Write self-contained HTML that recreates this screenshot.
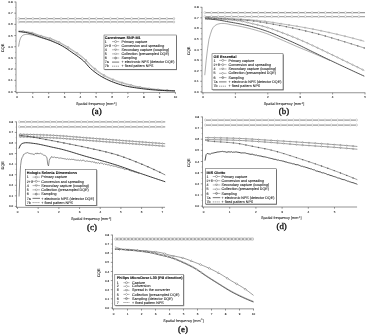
<!DOCTYPE html>
<html><head><meta charset="utf-8"><title>DQE figure</title>
<style>
html,body{margin:0;padding:0;background:#fff;}
body{width:367px;height:335px;overflow:hidden;}
text{stroke:#222;stroke-width:0.7px;}
text.cap{stroke:#111;stroke-width:3.6px;}
svg{display:block;font-family:"Liberation Sans",sans-serif;text-rendering:geometricPrecision;}
</style></head><body>
<svg width="367" height="335" viewBox="0 0 367 335">
<rect width="367" height="335" fill="#fff"/>
<line x1="16" y1="1.68" x2="16" y2="92.7" stroke="#4a4a4a" stroke-width="0.6"/>
<line x1="15.7" y1="92.4" x2="175.7" y2="92.4" stroke="#4a4a4a" stroke-width="0.6"/>
<line x1="14.3" y1="91.5" x2="16" y2="91.5" stroke="#444" stroke-width="0.55"/>
<text transform="translate(12.7 92.57) scale(0.1)" font-size="30" text-anchor="end" fill="#111">0.0</text>
<line x1="14.3" y1="80.31" x2="16" y2="80.31" stroke="#444" stroke-width="0.55"/>
<text transform="translate(12.7 81.38) scale(0.1)" font-size="30" text-anchor="end" fill="#111">0.1</text>
<line x1="14.3" y1="69.12" x2="16" y2="69.12" stroke="#444" stroke-width="0.55"/>
<text transform="translate(12.7 70.19) scale(0.1)" font-size="30" text-anchor="end" fill="#111">0.2</text>
<line x1="14.3" y1="57.93" x2="16" y2="57.93" stroke="#444" stroke-width="0.55"/>
<text transform="translate(12.7 59) scale(0.1)" font-size="30" text-anchor="end" fill="#111">0.3</text>
<line x1="14.3" y1="46.74" x2="16" y2="46.74" stroke="#444" stroke-width="0.55"/>
<text transform="translate(12.7 47.81) scale(0.1)" font-size="30" text-anchor="end" fill="#111">0.4</text>
<line x1="14.3" y1="35.55" x2="16" y2="35.55" stroke="#444" stroke-width="0.55"/>
<text transform="translate(12.7 36.62) scale(0.1)" font-size="30" text-anchor="end" fill="#111">0.5</text>
<line x1="14.3" y1="24.36" x2="16" y2="24.36" stroke="#444" stroke-width="0.55"/>
<text transform="translate(12.7 25.43) scale(0.1)" font-size="30" text-anchor="end" fill="#111">0.6</text>
<line x1="14.3" y1="13.17" x2="16" y2="13.17" stroke="#444" stroke-width="0.55"/>
<text transform="translate(12.7 14.24) scale(0.1)" font-size="30" text-anchor="end" fill="#111">0.7</text>
<line x1="14.3" y1="1.98" x2="16" y2="1.98" stroke="#444" stroke-width="0.55"/>
<text transform="translate(12.7 3.05) scale(0.1)" font-size="30" text-anchor="end" fill="#111">0.8</text>
<line x1="15.1" y1="85.91" x2="16" y2="85.91" stroke="#666" stroke-width="0.4"/>
<line x1="15.1" y1="74.72" x2="16" y2="74.72" stroke="#666" stroke-width="0.4"/>
<line x1="15.1" y1="63.52" x2="16" y2="63.52" stroke="#666" stroke-width="0.4"/>
<line x1="15.1" y1="52.34" x2="16" y2="52.34" stroke="#666" stroke-width="0.4"/>
<line x1="15.1" y1="41.14" x2="16" y2="41.14" stroke="#666" stroke-width="0.4"/>
<line x1="15.1" y1="29.95" x2="16" y2="29.95" stroke="#666" stroke-width="0.4"/>
<line x1="15.1" y1="18.77" x2="16" y2="18.77" stroke="#666" stroke-width="0.4"/>
<line x1="15.1" y1="7.57" x2="16" y2="7.57" stroke="#666" stroke-width="0.4"/>
<line x1="17" y1="92.4" x2="17" y2="94.1" stroke="#444" stroke-width="0.55"/>
<text transform="translate(17 98.1) scale(0.1)" font-size="30" text-anchor="middle" fill="#111">0</text>
<line x1="32.84" y1="92.4" x2="32.84" y2="94.1" stroke="#444" stroke-width="0.55"/>
<text transform="translate(32.84 98.1) scale(0.1)" font-size="30" text-anchor="middle" fill="#111">1</text>
<line x1="48.68" y1="92.4" x2="48.68" y2="94.1" stroke="#444" stroke-width="0.55"/>
<text transform="translate(48.68 98.1) scale(0.1)" font-size="30" text-anchor="middle" fill="#111">2</text>
<line x1="64.52" y1="92.4" x2="64.52" y2="94.1" stroke="#444" stroke-width="0.55"/>
<text transform="translate(64.52 98.1) scale(0.1)" font-size="30" text-anchor="middle" fill="#111">3</text>
<line x1="80.36" y1="92.4" x2="80.36" y2="94.1" stroke="#444" stroke-width="0.55"/>
<text transform="translate(80.36 98.1) scale(0.1)" font-size="30" text-anchor="middle" fill="#111">4</text>
<line x1="96.2" y1="92.4" x2="96.2" y2="94.1" stroke="#444" stroke-width="0.55"/>
<text transform="translate(96.2 98.1) scale(0.1)" font-size="30" text-anchor="middle" fill="#111">5</text>
<line x1="112.04" y1="92.4" x2="112.04" y2="94.1" stroke="#444" stroke-width="0.55"/>
<text transform="translate(112.04 98.1) scale(0.1)" font-size="30" text-anchor="middle" fill="#111">6</text>
<line x1="127.88" y1="92.4" x2="127.88" y2="94.1" stroke="#444" stroke-width="0.55"/>
<text transform="translate(127.88 98.1) scale(0.1)" font-size="30" text-anchor="middle" fill="#111">7</text>
<line x1="143.72" y1="92.4" x2="143.72" y2="94.1" stroke="#444" stroke-width="0.55"/>
<text transform="translate(143.72 98.1) scale(0.1)" font-size="30" text-anchor="middle" fill="#111">8</text>
<line x1="159.56" y1="92.4" x2="159.56" y2="94.1" stroke="#444" stroke-width="0.55"/>
<text transform="translate(159.56 98.1) scale(0.1)" font-size="30" text-anchor="middle" fill="#111">9</text>
<line x1="175.4" y1="92.4" x2="175.4" y2="94.1" stroke="#444" stroke-width="0.55"/>
<text transform="translate(175.4 98.1) scale(0.1)" font-size="30" text-anchor="middle" fill="#111">10</text>
<text transform="translate(96.2 105.1) scale(0.1)" font-size="37.5" text-anchor="middle" fill="#111">Spatial frequency [mm<tspan dy="-13" font-size="24">-1</tspan><tspan dy="13">]</tspan></text>
<text transform="translate(3.9 47.94) rotate(-90) scale(0.1)" font-size="38" text-anchor="middle" fill="#111">DQE</text>
<line x1="18.8" y1="18.5" x2="175" y2="18.5" stroke="#a2a2a2" stroke-width="1.25"/>
<ellipse cx="18.8" cy="18.5" rx="0.85" ry="1.15" fill="#fff" stroke="#a5a5a5" stroke-width="0.4"/>
<ellipse cx="25.85" cy="18.5" rx="0.85" ry="1.15" fill="#fff" stroke="#a5a5a5" stroke-width="0.4"/>
<ellipse cx="32.9" cy="18.5" rx="0.85" ry="1.15" fill="#fff" stroke="#a5a5a5" stroke-width="0.4"/>
<ellipse cx="39.95" cy="18.5" rx="0.85" ry="1.15" fill="#fff" stroke="#a5a5a5" stroke-width="0.4"/>
<ellipse cx="47" cy="18.5" rx="0.85" ry="1.15" fill="#fff" stroke="#a5a5a5" stroke-width="0.4"/>
<ellipse cx="54.05" cy="18.5" rx="0.85" ry="1.15" fill="#fff" stroke="#a5a5a5" stroke-width="0.4"/>
<ellipse cx="61.1" cy="18.5" rx="0.85" ry="1.15" fill="#fff" stroke="#a5a5a5" stroke-width="0.4"/>
<ellipse cx="68.15" cy="18.5" rx="0.85" ry="1.15" fill="#fff" stroke="#a5a5a5" stroke-width="0.4"/>
<ellipse cx="75.2" cy="18.5" rx="0.85" ry="1.15" fill="#fff" stroke="#a5a5a5" stroke-width="0.4"/>
<ellipse cx="82.25" cy="18.5" rx="0.85" ry="1.15" fill="#fff" stroke="#a5a5a5" stroke-width="0.4"/>
<ellipse cx="89.3" cy="18.5" rx="0.85" ry="1.15" fill="#fff" stroke="#a5a5a5" stroke-width="0.4"/>
<ellipse cx="96.35" cy="18.5" rx="0.85" ry="1.15" fill="#fff" stroke="#a5a5a5" stroke-width="0.4"/>
<ellipse cx="103.4" cy="18.5" rx="0.85" ry="1.15" fill="#fff" stroke="#a5a5a5" stroke-width="0.4"/>
<ellipse cx="110.45" cy="18.5" rx="0.85" ry="1.15" fill="#fff" stroke="#a5a5a5" stroke-width="0.4"/>
<ellipse cx="117.5" cy="18.5" rx="0.85" ry="1.15" fill="#fff" stroke="#a5a5a5" stroke-width="0.4"/>
<ellipse cx="124.55" cy="18.5" rx="0.85" ry="1.15" fill="#fff" stroke="#a5a5a5" stroke-width="0.4"/>
<ellipse cx="131.6" cy="18.5" rx="0.85" ry="1.15" fill="#fff" stroke="#a5a5a5" stroke-width="0.4"/>
<ellipse cx="138.65" cy="18.5" rx="0.85" ry="1.15" fill="#fff" stroke="#a5a5a5" stroke-width="0.4"/>
<ellipse cx="145.7" cy="18.5" rx="0.85" ry="1.15" fill="#fff" stroke="#a5a5a5" stroke-width="0.4"/>
<ellipse cx="152.75" cy="18.5" rx="0.85" ry="1.15" fill="#fff" stroke="#a5a5a5" stroke-width="0.4"/>
<ellipse cx="159.8" cy="18.5" rx="0.85" ry="1.15" fill="#fff" stroke="#a5a5a5" stroke-width="0.4"/>
<ellipse cx="166.85" cy="18.5" rx="0.85" ry="1.15" fill="#fff" stroke="#a5a5a5" stroke-width="0.4"/>
<ellipse cx="173.9" cy="18.5" rx="0.85" ry="1.15" fill="#fff" stroke="#a5a5a5" stroke-width="0.4"/>
<line x1="18.8" y1="21.96" x2="175" y2="21.96" stroke="#a2a2a2" stroke-width="1.25"/>
<ellipse cx="18.8" cy="21.96" rx="0.85" ry="1.15" fill="#fff" stroke="#a5a5a5" stroke-width="0.4"/>
<ellipse cx="25.85" cy="21.96" rx="0.85" ry="1.15" fill="#fff" stroke="#a5a5a5" stroke-width="0.4"/>
<ellipse cx="32.9" cy="21.96" rx="0.85" ry="1.15" fill="#fff" stroke="#a5a5a5" stroke-width="0.4"/>
<ellipse cx="39.95" cy="21.96" rx="0.85" ry="1.15" fill="#fff" stroke="#a5a5a5" stroke-width="0.4"/>
<ellipse cx="47" cy="21.96" rx="0.85" ry="1.15" fill="#fff" stroke="#a5a5a5" stroke-width="0.4"/>
<ellipse cx="54.05" cy="21.96" rx="0.85" ry="1.15" fill="#fff" stroke="#a5a5a5" stroke-width="0.4"/>
<ellipse cx="61.1" cy="21.96" rx="0.85" ry="1.15" fill="#fff" stroke="#a5a5a5" stroke-width="0.4"/>
<ellipse cx="68.15" cy="21.96" rx="0.85" ry="1.15" fill="#fff" stroke="#a5a5a5" stroke-width="0.4"/>
<ellipse cx="75.2" cy="21.96" rx="0.85" ry="1.15" fill="#fff" stroke="#a5a5a5" stroke-width="0.4"/>
<ellipse cx="82.25" cy="21.96" rx="0.85" ry="1.15" fill="#fff" stroke="#a5a5a5" stroke-width="0.4"/>
<ellipse cx="89.3" cy="21.96" rx="0.85" ry="1.15" fill="#fff" stroke="#a5a5a5" stroke-width="0.4"/>
<ellipse cx="96.35" cy="21.96" rx="0.85" ry="1.15" fill="#fff" stroke="#a5a5a5" stroke-width="0.4"/>
<ellipse cx="103.4" cy="21.96" rx="0.85" ry="1.15" fill="#fff" stroke="#a5a5a5" stroke-width="0.4"/>
<ellipse cx="110.45" cy="21.96" rx="0.85" ry="1.15" fill="#fff" stroke="#a5a5a5" stroke-width="0.4"/>
<ellipse cx="117.5" cy="21.96" rx="0.85" ry="1.15" fill="#fff" stroke="#a5a5a5" stroke-width="0.4"/>
<ellipse cx="124.55" cy="21.96" rx="0.85" ry="1.15" fill="#fff" stroke="#a5a5a5" stroke-width="0.4"/>
<ellipse cx="131.6" cy="21.96" rx="0.85" ry="1.15" fill="#fff" stroke="#a5a5a5" stroke-width="0.4"/>
<ellipse cx="138.65" cy="21.96" rx="0.85" ry="1.15" fill="#fff" stroke="#a5a5a5" stroke-width="0.4"/>
<ellipse cx="145.7" cy="21.96" rx="0.85" ry="1.15" fill="#fff" stroke="#a5a5a5" stroke-width="0.4"/>
<ellipse cx="152.75" cy="21.96" rx="0.85" ry="1.15" fill="#fff" stroke="#a5a5a5" stroke-width="0.4"/>
<ellipse cx="159.8" cy="21.96" rx="0.85" ry="1.15" fill="#fff" stroke="#a5a5a5" stroke-width="0.4"/>
<ellipse cx="166.85" cy="21.96" rx="0.85" ry="1.15" fill="#fff" stroke="#a5a5a5" stroke-width="0.4"/>
<ellipse cx="173.9" cy="21.96" rx="0.85" ry="1.15" fill="#fff" stroke="#a5a5a5" stroke-width="0.4"/>
<polyline points="18.58,31.01 20.34,31.09 22.1,31.21 23.85,31.35 25.61,31.51 27.37,31.74 29.13,32.05 30.88,32.41 32.64,32.82 34.4,33.37 36.16,34.03 37.91,34.71 39.67,35.34 41.43,35.87 43.19,36.35 44.94,36.8 46.7,37.25 48.46,37.73 50.22,38.27 51.97,38.89 53.73,39.59 55.49,40.36 57.25,41.18 59,42.05 60.76,42.94 62.52,43.86 64.28,44.83 66.03,45.86 67.79,46.93 69.55,48.03 71.31,49.16 73.06,50.3 74.82,51.44 76.58,52.59 78.34,53.78 80.09,55.02 81.85,56.34 83.61,57.76 85.37,59.39 87.12,61.23 88.88,63.1 90.64,64.83 92.4,66.39 94.15,67.92 95.91,69.39 97.67,70.79 99.43,72.11 101.18,73.32 102.94,74.4 104.7,75.4 106.46,76.34 108.21,77.22 109.97,78.05 111.73,78.82 113.49,79.55 115.24,80.22 117,80.86 118.76,81.45 120.52,82.01 122.27,82.55 124.03,83.06 125.79,83.56 127.55,84.05 129.3,84.53 131.06,85 132.82,85.46 134.58,85.9 136.33,86.3 138.09,86.68 139.85,87.01 141.61,87.33 143.36,87.63 145.12,87.9 146.88,88.16 148.64,88.41 150.39,88.64 152.15,88.85 153.91,89.05 155.67,89.25 157.42,89.43 159.18,89.6 160.94,89.76 162.7,89.9 164.45,90.03 166.21,90.16 167.97,90.27 169.73,90.38 171.48,90.48 173.24,90.57 175,90.64" fill="none" stroke="#777" stroke-width="0.45"/>
<circle cx="23.08" cy="31.29" r="0.65" fill="#fff" stroke="#777" stroke-width="0.4"/>
<circle cx="32.08" cy="32.69" r="0.65" fill="#fff" stroke="#777" stroke-width="0.4"/>
<circle cx="41.08" cy="35.77" r="0.65" fill="#fff" stroke="#777" stroke-width="0.4"/>
<circle cx="50.08" cy="38.23" r="0.65" fill="#fff" stroke="#777" stroke-width="0.4"/>
<circle cx="59.08" cy="42.09" r="0.65" fill="#fff" stroke="#777" stroke-width="0.4"/>
<circle cx="68.08" cy="47.11" r="0.65" fill="#fff" stroke="#777" stroke-width="0.4"/>
<circle cx="77.08" cy="52.93" r="0.65" fill="#fff" stroke="#777" stroke-width="0.4"/>
<circle cx="86.08" cy="60.14" r="0.65" fill="#fff" stroke="#777" stroke-width="0.4"/>
<circle cx="95.08" cy="68.69" r="0.65" fill="#fff" stroke="#777" stroke-width="0.4"/>
<circle cx="104.08" cy="75.05" r="0.65" fill="#fff" stroke="#777" stroke-width="0.4"/>
<circle cx="113.08" cy="79.38" r="0.65" fill="#fff" stroke="#777" stroke-width="0.4"/>
<circle cx="122.08" cy="82.49" r="0.65" fill="#fff" stroke="#777" stroke-width="0.4"/>
<circle cx="131.08" cy="85.01" r="0.65" fill="#fff" stroke="#777" stroke-width="0.4"/>
<circle cx="140.08" cy="87.06" r="0.65" fill="#fff" stroke="#777" stroke-width="0.4"/>
<circle cx="149.08" cy="88.47" r="0.65" fill="#fff" stroke="#777" stroke-width="0.4"/>
<circle cx="158.08" cy="89.49" r="0.65" fill="#fff" stroke="#777" stroke-width="0.4"/>
<circle cx="167.08" cy="90.21" r="0.65" fill="#fff" stroke="#777" stroke-width="0.4"/>
<polyline points="18.58,31.18 20.34,31.27 22.1,31.41 23.85,31.58 25.61,31.77 27.37,32.04 29.13,32.39 30.88,32.79 32.64,33.24 34.4,33.8 36.16,34.46 37.91,35.14 39.67,35.78 41.43,36.33 43.19,36.83 44.94,37.31 46.7,37.8 48.46,38.31 50.22,38.87 51.97,39.51 53.73,40.22 55.49,40.99 57.25,41.81 59,42.67 60.76,43.56 62.52,44.49 64.28,45.48 66.03,46.54 67.79,47.64 69.55,48.77 71.31,49.93 73.06,51.1 74.82,52.26 76.58,53.43 78.34,54.63 80.09,55.89 81.85,57.23 83.61,58.67 85.37,60.34 87.12,62.22 88.88,64.14 90.64,65.89 92.4,67.44 94.15,68.94 95.91,70.37 97.67,71.73 99.43,73.01 101.18,74.18 102.94,75.23 104.7,76.22 106.46,77.14 108.21,78.01 109.97,78.83 111.73,79.59 113.49,80.3 115.24,80.97 117,81.6 118.76,82.19 120.52,82.75 122.27,83.28 124.03,83.78 125.79,84.26 127.55,84.72 129.3,85.16 131.06,85.59 132.82,86 134.58,86.38 136.33,86.75 138.09,87.08 139.85,87.39 141.61,87.68 143.36,87.96 145.12,88.22 146.88,88.47 148.64,88.7 150.39,88.91 152.15,89.11 153.91,89.29 155.67,89.47 157.42,89.64 159.18,89.79 160.94,89.93 162.7,90.07 164.45,90.18 166.21,90.3 167.97,90.4 169.73,90.5 171.48,90.59 173.24,90.67 175,90.74" fill="none" stroke="#777" stroke-width="0.45"/>
<rect x="22.43" y="30.86" width="1.3" height="1.3" fill="#fff" stroke="#777" stroke-width="0.4" transform="rotate(45 23.08 31.51)"/>
<rect x="31.43" y="32.44" width="1.3" height="1.3" fill="#fff" stroke="#777" stroke-width="0.4" transform="rotate(45 32.08 33.09)"/>
<rect x="40.43" y="35.57" width="1.3" height="1.3" fill="#fff" stroke="#777" stroke-width="0.4" transform="rotate(45 41.08 36.22)"/>
<rect x="49.43" y="38.18" width="1.3" height="1.3" fill="#fff" stroke="#777" stroke-width="0.4" transform="rotate(45 50.08 38.83)"/>
<rect x="58.43" y="42.06" width="1.3" height="1.3" fill="#fff" stroke="#777" stroke-width="0.4" transform="rotate(45 59.08 42.71)"/>
<rect x="67.43" y="47.17" width="1.3" height="1.3" fill="#fff" stroke="#777" stroke-width="0.4" transform="rotate(45 68.08 47.82)"/>
<rect x="76.43" y="53.12" width="1.3" height="1.3" fill="#fff" stroke="#777" stroke-width="0.4" transform="rotate(45 77.08 53.77)"/>
<rect x="85.43" y="60.45" width="1.3" height="1.3" fill="#fff" stroke="#777" stroke-width="0.4" transform="rotate(45 86.08 61.1)"/>
<rect x="94.43" y="69.04" width="1.3" height="1.3" fill="#fff" stroke="#777" stroke-width="0.4" transform="rotate(45 95.08 69.69)"/>
<rect x="103.43" y="75.22" width="1.3" height="1.3" fill="#fff" stroke="#777" stroke-width="0.4" transform="rotate(45 104.08 75.87)"/>
<rect x="112.43" y="79.49" width="1.3" height="1.3" fill="#fff" stroke="#777" stroke-width="0.4" transform="rotate(45 113.08 80.14)"/>
<rect x="121.43" y="82.57" width="1.3" height="1.3" fill="#fff" stroke="#777" stroke-width="0.4" transform="rotate(45 122.08 83.22)"/>
<rect x="130.43" y="84.94" width="1.3" height="1.3" fill="#fff" stroke="#777" stroke-width="0.4" transform="rotate(45 131.08 85.59)"/>
<rect x="139.43" y="86.78" width="1.3" height="1.3" fill="#fff" stroke="#777" stroke-width="0.4" transform="rotate(45 140.08 87.43)"/>
<rect x="148.43" y="88.1" width="1.3" height="1.3" fill="#fff" stroke="#777" stroke-width="0.4" transform="rotate(45 149.08 88.75)"/>
<rect x="157.43" y="89.04" width="1.3" height="1.3" fill="#fff" stroke="#777" stroke-width="0.4" transform="rotate(45 158.08 89.69)"/>
<rect x="166.43" y="89.7" width="1.3" height="1.3" fill="#fff" stroke="#777" stroke-width="0.4" transform="rotate(45 167.08 90.35)"/>
<polyline points="18.58,31.61 20.34,31.75 22.1,31.95 23.85,32.18 25.61,32.44 27.37,32.81 29.13,33.27 30.88,33.78 32.64,34.31 34.4,34.91 36.16,35.56 37.91,36.24 39.67,36.89 41.43,37.5 43.19,38.07 44.94,38.63 46.7,39.2 48.46,39.79 50.22,40.43 51.97,41.11 53.73,41.84 55.49,42.6 57.25,43.41 59,44.26 60.76,45.16 62.52,46.11 64.28,47.16 66.03,48.28 67.79,49.47 69.55,50.69 71.31,51.92 73.06,53.16 74.82,54.37 76.58,55.58 78.34,56.82 80.09,58.11 81.85,59.5 83.61,60.99 85.37,62.76 87.12,64.78 88.88,66.82 90.64,68.63 92.4,70.14 94.15,71.56 95.91,72.89 97.67,74.14 99.43,75.31 101.18,76.39 102.94,77.38 104.7,78.32 106.46,79.21 108.21,80.04 109.97,80.83 111.73,81.56 113.49,82.25 115.24,82.89 117,83.5 118.76,84.09 120.52,84.65 122.27,85.17 124.03,85.65 125.79,86.07 127.55,86.44 129.3,86.78 131.06,87.09 132.82,87.37 134.58,87.63 136.33,87.88 138.09,88.13 139.85,88.36 141.61,88.6 143.36,88.83 145.12,89.04 146.88,89.25 148.64,89.44 150.39,89.61 152.15,89.77 153.91,89.91 155.67,90.04 157.42,90.17 159.18,90.28 160.94,90.39 162.7,90.48 164.45,90.57 166.21,90.65 167.97,90.73 169.73,90.8 171.48,90.87 173.24,90.93 175,90.98" fill="none" stroke="#111" stroke-width="0.9"/>
<polyline points="18.58,46.61 19.22,42.72 19.87,40.08 20.51,38.28 21.15,37.05 21.79,36.2 22.44,35.61 23.08,35.2 23.72,34.91 24.36,34.7 25.01,34.55 25.65,34.46 26.29,34.41 26.94,34.4 27.58,34.42 28.22,34.47 28.86,34.54 29.51,34.62 30.15,34.72 30.79,34.83 31.43,34.94 32.08,35.06 32.72,35.2 33.36,35.35 34.01,35.52 34.65,35.7 35.29,35.89 35.93,36.08 36.58,36.29 37.22,36.5 37.86,36.71 38.5,36.92 39.15,37.12 39.79,37.33 40.43,37.52 41.07,37.72 41.72,37.91 42.36,38.1 43,38.29 43.65,38.47 44.29,38.66 44.93,38.85 45.57,39.04 46.22,39.23 46.86,39.43 47.5,39.63 48.14,39.84 48.79,40.05 49.43,40.27 50.07,40.5 50.72,40.73 51.36,40.97 52,41.22 52.64,41.48 53.29,41.74 53.93,42 54.57,42.27 55.21,42.55 55.86,42.83 56.5,43.12" fill="none" stroke="#5a5a5a" stroke-width="0.55"/>
<rect x="104.7" y="35.7" width="72.3" height="34.4" fill="#777"/>
<rect x="104" y="35" width="72.3" height="34.4" fill="#fff" stroke="#444" stroke-width="0.5"/>
<text transform="translate(104.8 38.95) scale(0.1)" font-size="37.5" text-anchor="start" fill="#000" font-weight="bold">Carestream SNP-M1</text>
<text transform="translate(104.8 42.75) scale(0.1)" font-size="36.5" text-anchor="start" fill="#111">1</text>
<line x1="112" y1="41.6" x2="119.2" y2="41.6" stroke="#666" stroke-width="0.5"/>
<circle cx="115.6" cy="41.6" r="1.0" fill="#fff" stroke="#555" stroke-width="0.45"/>
<text transform="translate(121.6 42.75) scale(0.1)" font-size="36.5" text-anchor="start" fill="#111">Primary capture</text>
<text transform="translate(104.8 46.85) scale(0.1)" font-size="36.5" text-anchor="start" fill="#111">2+3</text>
<line x1="112" y1="45.7" x2="119.2" y2="45.7" stroke="#666" stroke-width="0.5"/>
<circle cx="115.6" cy="45.7" r="1.0" fill="#fff" stroke="#555" stroke-width="0.45"/>
<text transform="translate(121.6 46.85) scale(0.1)" font-size="36.5" text-anchor="start" fill="#111">Conversion and spreading</text>
<text transform="translate(104.8 50.95) scale(0.1)" font-size="36.5" text-anchor="start" fill="#111">4</text>
<line x1="112" y1="49.8" x2="119.2" y2="49.8" stroke="#666" stroke-width="0.5"/>
<path d="M114.6 49 l2 0 l-1 1.8 z" fill="#fff" stroke="#555" stroke-width="0.4"/>
<text transform="translate(121.6 50.95) scale(0.1)" font-size="36.5" text-anchor="start" fill="#111">Secondary capture (coupling)</text>
<text transform="translate(104.8 55.05) scale(0.1)" font-size="36.5" text-anchor="start" fill="#111">5</text>
<line x1="112" y1="53.9" x2="119.2" y2="53.9" stroke="#666" stroke-width="0.5"/>
<path d="M115.6 52.8 l1.1 1.1 l-1.1 1.1 l-1.1 -1.1 z" fill="#fff" stroke="#555" stroke-width="0.4"/>
<text transform="translate(121.6 55.05) scale(0.1)" font-size="36.5" text-anchor="start" fill="#111">Collection (presampled DQE)</text>
<text transform="translate(104.8 59.15) scale(0.1)" font-size="36.5" text-anchor="start" fill="#111">6</text>
<line x1="112" y1="58" x2="119.2" y2="58" stroke="#666" stroke-width="0.5"/>
<circle cx="115.6" cy="58" r="1.0" fill="#bbb" stroke="#555" stroke-width="0.45"/>
<text transform="translate(121.6 59.15) scale(0.1)" font-size="36.5" text-anchor="start" fill="#111">Sampling</text>
<text transform="translate(104.8 63.25) scale(0.1)" font-size="36.5" text-anchor="start" fill="#111">7a</text>
<line x1="112" y1="62.1" x2="119.2" y2="62.1" stroke="#2a2a2a" stroke-width="0.65"/>
<text transform="translate(121.6 63.25) scale(0.1)" font-size="36.5" text-anchor="start" fill="#111">+ electronic NPS (detector DQE)</text>
<text transform="translate(104.8 67.35) scale(0.1)" font-size="36.5" text-anchor="start" fill="#111">7b</text>
<line x1="112" y1="66.2" x2="119.2" y2="66.2" stroke="#555" stroke-width="0.6" stroke-dasharray="1.3 0.6"/>
<text transform="translate(121.6 67.35) scale(0.1)" font-size="36.5" text-anchor="start" fill="#111">+ fixed pattern NPS</text>
<text class="cap" transform="translate(96.7 113.6) scale(0.1)" font-size="88" text-anchor="middle" fill="#111" font-family='"Liberation Serif", serif'>(a)</text>
<line x1="202" y1="6.95" x2="202" y2="93.05" stroke="#4a4a4a" stroke-width="0.6"/>
<line x1="201.7" y1="92.75" x2="365.3" y2="92.75" stroke="#4a4a4a" stroke-width="0.6"/>
<line x1="200.3" y1="91.85" x2="202" y2="91.85" stroke="#444" stroke-width="0.55"/>
<text transform="translate(198.7 92.92) scale(0.1)" font-size="30" text-anchor="end" fill="#111">0.0</text>
<line x1="200.3" y1="81.27" x2="202" y2="81.27" stroke="#444" stroke-width="0.55"/>
<text transform="translate(198.7 82.34) scale(0.1)" font-size="30" text-anchor="end" fill="#111">0.1</text>
<line x1="200.3" y1="70.7" x2="202" y2="70.7" stroke="#444" stroke-width="0.55"/>
<text transform="translate(198.7 71.77) scale(0.1)" font-size="30" text-anchor="end" fill="#111">0.2</text>
<line x1="200.3" y1="60.12" x2="202" y2="60.12" stroke="#444" stroke-width="0.55"/>
<text transform="translate(198.7 61.2) scale(0.1)" font-size="30" text-anchor="end" fill="#111">0.3</text>
<line x1="200.3" y1="49.55" x2="202" y2="49.55" stroke="#444" stroke-width="0.55"/>
<text transform="translate(198.7 50.62) scale(0.1)" font-size="30" text-anchor="end" fill="#111">0.4</text>
<line x1="200.3" y1="38.97" x2="202" y2="38.97" stroke="#444" stroke-width="0.55"/>
<text transform="translate(198.7 40.04) scale(0.1)" font-size="30" text-anchor="end" fill="#111">0.5</text>
<line x1="200.3" y1="28.4" x2="202" y2="28.4" stroke="#444" stroke-width="0.55"/>
<text transform="translate(198.7 29.47) scale(0.1)" font-size="30" text-anchor="end" fill="#111">0.6</text>
<line x1="200.3" y1="17.83" x2="202" y2="17.83" stroke="#444" stroke-width="0.55"/>
<text transform="translate(198.7 18.9) scale(0.1)" font-size="30" text-anchor="end" fill="#111">0.7</text>
<line x1="200.3" y1="7.25" x2="202" y2="7.25" stroke="#444" stroke-width="0.55"/>
<text transform="translate(198.7 8.32) scale(0.1)" font-size="30" text-anchor="end" fill="#111">0.8</text>
<line x1="201.1" y1="86.56" x2="202" y2="86.56" stroke="#666" stroke-width="0.4"/>
<line x1="201.1" y1="75.99" x2="202" y2="75.99" stroke="#666" stroke-width="0.4"/>
<line x1="201.1" y1="65.41" x2="202" y2="65.41" stroke="#666" stroke-width="0.4"/>
<line x1="201.1" y1="54.84" x2="202" y2="54.84" stroke="#666" stroke-width="0.4"/>
<line x1="201.1" y1="44.26" x2="202" y2="44.26" stroke="#666" stroke-width="0.4"/>
<line x1="201.1" y1="33.69" x2="202" y2="33.69" stroke="#666" stroke-width="0.4"/>
<line x1="201.1" y1="23.11" x2="202" y2="23.11" stroke="#666" stroke-width="0.4"/>
<line x1="201.1" y1="12.54" x2="202" y2="12.54" stroke="#666" stroke-width="0.4"/>
<line x1="203" y1="92.75" x2="203" y2="94.45" stroke="#444" stroke-width="0.55"/>
<text transform="translate(203 98.45) scale(0.1)" font-size="30" text-anchor="middle" fill="#111">0</text>
<line x1="235.4" y1="92.75" x2="235.4" y2="94.45" stroke="#444" stroke-width="0.55"/>
<text transform="translate(235.4 98.45) scale(0.1)" font-size="30" text-anchor="middle" fill="#111">1</text>
<line x1="267.8" y1="92.75" x2="267.8" y2="94.45" stroke="#444" stroke-width="0.55"/>
<text transform="translate(267.8 98.45) scale(0.1)" font-size="30" text-anchor="middle" fill="#111">2</text>
<line x1="300.2" y1="92.75" x2="300.2" y2="94.45" stroke="#444" stroke-width="0.55"/>
<text transform="translate(300.2 98.45) scale(0.1)" font-size="30" text-anchor="middle" fill="#111">3</text>
<line x1="332.6" y1="92.75" x2="332.6" y2="94.45" stroke="#444" stroke-width="0.55"/>
<text transform="translate(332.6 98.45) scale(0.1)" font-size="30" text-anchor="middle" fill="#111">4</text>
<line x1="365" y1="92.75" x2="365" y2="94.45" stroke="#444" stroke-width="0.55"/>
<text transform="translate(365 98.45) scale(0.1)" font-size="30" text-anchor="middle" fill="#111">5</text>
<text transform="translate(284 105.45) scale(0.1)" font-size="37.5" text-anchor="middle" fill="#111">Spatial frequency [mm<tspan dy="-13" font-size="24">-1</tspan><tspan dy="13">]</tspan></text>
<text transform="translate(189.9 50.75) rotate(-90) scale(0.1)" font-size="38" text-anchor="middle" fill="#111">DQE</text>
<line x1="204.8" y1="12.57" x2="365" y2="12.57" stroke="#9c9c9c" stroke-width="1.25"/>
<ellipse cx="204.8" cy="12.57" rx="0.85" ry="1.15" fill="#fff" stroke="#a5a5a5" stroke-width="0.4"/>
<ellipse cx="211.5" cy="12.57" rx="0.85" ry="1.15" fill="#fff" stroke="#a5a5a5" stroke-width="0.4"/>
<ellipse cx="218.2" cy="12.57" rx="0.85" ry="1.15" fill="#fff" stroke="#a5a5a5" stroke-width="0.4"/>
<ellipse cx="224.9" cy="12.57" rx="0.85" ry="1.15" fill="#fff" stroke="#a5a5a5" stroke-width="0.4"/>
<ellipse cx="231.6" cy="12.57" rx="0.85" ry="1.15" fill="#fff" stroke="#a5a5a5" stroke-width="0.4"/>
<ellipse cx="238.3" cy="12.57" rx="0.85" ry="1.15" fill="#fff" stroke="#a5a5a5" stroke-width="0.4"/>
<ellipse cx="245" cy="12.57" rx="0.85" ry="1.15" fill="#fff" stroke="#a5a5a5" stroke-width="0.4"/>
<ellipse cx="251.7" cy="12.57" rx="0.85" ry="1.15" fill="#fff" stroke="#a5a5a5" stroke-width="0.4"/>
<ellipse cx="258.4" cy="12.57" rx="0.85" ry="1.15" fill="#fff" stroke="#a5a5a5" stroke-width="0.4"/>
<ellipse cx="265.1" cy="12.57" rx="0.85" ry="1.15" fill="#fff" stroke="#a5a5a5" stroke-width="0.4"/>
<ellipse cx="271.8" cy="12.57" rx="0.85" ry="1.15" fill="#fff" stroke="#a5a5a5" stroke-width="0.4"/>
<ellipse cx="278.5" cy="12.57" rx="0.85" ry="1.15" fill="#fff" stroke="#a5a5a5" stroke-width="0.4"/>
<ellipse cx="285.2" cy="12.57" rx="0.85" ry="1.15" fill="#fff" stroke="#a5a5a5" stroke-width="0.4"/>
<ellipse cx="291.9" cy="12.57" rx="0.85" ry="1.15" fill="#fff" stroke="#a5a5a5" stroke-width="0.4"/>
<ellipse cx="298.6" cy="12.57" rx="0.85" ry="1.15" fill="#fff" stroke="#a5a5a5" stroke-width="0.4"/>
<ellipse cx="305.3" cy="12.57" rx="0.85" ry="1.15" fill="#fff" stroke="#a5a5a5" stroke-width="0.4"/>
<ellipse cx="312" cy="12.57" rx="0.85" ry="1.15" fill="#fff" stroke="#a5a5a5" stroke-width="0.4"/>
<ellipse cx="318.7" cy="12.57" rx="0.85" ry="1.15" fill="#fff" stroke="#a5a5a5" stroke-width="0.4"/>
<ellipse cx="325.4" cy="12.57" rx="0.85" ry="1.15" fill="#fff" stroke="#a5a5a5" stroke-width="0.4"/>
<ellipse cx="332.1" cy="12.57" rx="0.85" ry="1.15" fill="#fff" stroke="#a5a5a5" stroke-width="0.4"/>
<ellipse cx="338.8" cy="12.57" rx="0.85" ry="1.15" fill="#fff" stroke="#a5a5a5" stroke-width="0.4"/>
<ellipse cx="345.5" cy="12.57" rx="0.85" ry="1.15" fill="#fff" stroke="#a5a5a5" stroke-width="0.4"/>
<ellipse cx="352.2" cy="12.57" rx="0.85" ry="1.15" fill="#fff" stroke="#a5a5a5" stroke-width="0.4"/>
<ellipse cx="358.9" cy="12.57" rx="0.85" ry="1.15" fill="#fff" stroke="#a5a5a5" stroke-width="0.4"/>
<line x1="204.8" y1="16.57" x2="365" y2="16.57" stroke="#aaa" stroke-width="1.25"/>
<ellipse cx="204.8" cy="16.57" rx="0.85" ry="1.15" fill="#fff" stroke="#a5a5a5" stroke-width="0.4"/>
<ellipse cx="211.5" cy="16.57" rx="0.85" ry="1.15" fill="#fff" stroke="#a5a5a5" stroke-width="0.4"/>
<ellipse cx="218.2" cy="16.57" rx="0.85" ry="1.15" fill="#fff" stroke="#a5a5a5" stroke-width="0.4"/>
<ellipse cx="224.9" cy="16.57" rx="0.85" ry="1.15" fill="#fff" stroke="#a5a5a5" stroke-width="0.4"/>
<ellipse cx="231.6" cy="16.57" rx="0.85" ry="1.15" fill="#fff" stroke="#a5a5a5" stroke-width="0.4"/>
<ellipse cx="238.3" cy="16.57" rx="0.85" ry="1.15" fill="#fff" stroke="#a5a5a5" stroke-width="0.4"/>
<ellipse cx="245" cy="16.57" rx="0.85" ry="1.15" fill="#fff" stroke="#a5a5a5" stroke-width="0.4"/>
<ellipse cx="251.7" cy="16.57" rx="0.85" ry="1.15" fill="#fff" stroke="#a5a5a5" stroke-width="0.4"/>
<ellipse cx="258.4" cy="16.57" rx="0.85" ry="1.15" fill="#fff" stroke="#a5a5a5" stroke-width="0.4"/>
<ellipse cx="265.1" cy="16.57" rx="0.85" ry="1.15" fill="#fff" stroke="#a5a5a5" stroke-width="0.4"/>
<ellipse cx="271.8" cy="16.57" rx="0.85" ry="1.15" fill="#fff" stroke="#a5a5a5" stroke-width="0.4"/>
<ellipse cx="278.5" cy="16.57" rx="0.85" ry="1.15" fill="#fff" stroke="#a5a5a5" stroke-width="0.4"/>
<ellipse cx="285.2" cy="16.57" rx="0.85" ry="1.15" fill="#fff" stroke="#a5a5a5" stroke-width="0.4"/>
<ellipse cx="291.9" cy="16.57" rx="0.85" ry="1.15" fill="#fff" stroke="#a5a5a5" stroke-width="0.4"/>
<ellipse cx="298.6" cy="16.57" rx="0.85" ry="1.15" fill="#fff" stroke="#a5a5a5" stroke-width="0.4"/>
<ellipse cx="305.3" cy="16.57" rx="0.85" ry="1.15" fill="#fff" stroke="#a5a5a5" stroke-width="0.4"/>
<ellipse cx="312" cy="16.57" rx="0.85" ry="1.15" fill="#fff" stroke="#a5a5a5" stroke-width="0.4"/>
<ellipse cx="318.7" cy="16.57" rx="0.85" ry="1.15" fill="#fff" stroke="#a5a5a5" stroke-width="0.4"/>
<ellipse cx="325.4" cy="16.57" rx="0.85" ry="1.15" fill="#fff" stroke="#a5a5a5" stroke-width="0.4"/>
<ellipse cx="332.1" cy="16.57" rx="0.85" ry="1.15" fill="#fff" stroke="#a5a5a5" stroke-width="0.4"/>
<ellipse cx="338.8" cy="16.57" rx="0.85" ry="1.15" fill="#fff" stroke="#a5a5a5" stroke-width="0.4"/>
<ellipse cx="345.5" cy="16.57" rx="0.85" ry="1.15" fill="#fff" stroke="#a5a5a5" stroke-width="0.4"/>
<ellipse cx="352.2" cy="16.57" rx="0.85" ry="1.15" fill="#fff" stroke="#a5a5a5" stroke-width="0.4"/>
<ellipse cx="358.9" cy="16.57" rx="0.85" ry="1.15" fill="#fff" stroke="#a5a5a5" stroke-width="0.4"/>
<polyline points="205,17.5 206.79,17.56 208.58,17.63 210.37,17.7 212.16,17.77 213.95,17.85 215.74,17.92 217.53,18 219.32,18.08 221.11,18.16 222.9,18.25 224.69,18.34 226.48,18.42 228.27,18.51 230.06,18.6 231.85,18.69 233.64,18.79 235.43,18.88 237.22,18.98 239.01,19.08 240.8,19.18 242.59,19.29 244.38,19.4 246.17,19.52 247.96,19.65 249.75,19.78 251.54,19.92 253.33,20.08 255.12,20.25 256.91,20.42 258.7,20.61 260.49,20.81 262.28,21.02 264.07,21.23 265.86,21.45 267.65,21.67 269.44,21.92 271.23,22.18 273.02,22.45 274.81,22.73 276.6,23.02 278.39,23.31 280.18,23.6 281.97,23.88 283.76,24.16 285.54,24.44 287.33,24.72 289.12,25 290.91,25.28 292.7,25.56 294.49,25.85 296.28,26.14 298.07,26.44 299.86,26.75 301.65,27.06 303.44,27.38 305.23,27.7 307.02,28.02 308.81,28.36 310.6,28.69 312.39,29.03 314.18,29.38 315.97,29.73 317.76,30.09 319.55,30.46 321.34,30.83 323.13,31.2 324.92,31.58 326.71,31.97 328.5,32.36 330.29,32.76 332.08,33.16 333.87,33.57 335.66,33.98 337.45,34.4 339.24,34.82 341.03,35.25 342.82,35.68 344.61,36.12 346.4,36.56 348.19,37.01 349.98,37.47 351.77,37.93 353.56,38.39 355.35,38.86 357.14,39.34 358.93,39.82 360.72,40.31 362.51,40.8 364.3,41.3" fill="none" stroke="#777" stroke-width="0.55"/>
<circle cx="209" cy="17.65" r="0.65" fill="#fff" stroke="#777" stroke-width="0.4"/>
<circle cx="217" cy="17.98" r="0.65" fill="#fff" stroke="#777" stroke-width="0.4"/>
<circle cx="225" cy="18.35" r="0.65" fill="#fff" stroke="#777" stroke-width="0.4"/>
<circle cx="233" cy="18.75" r="0.65" fill="#fff" stroke="#777" stroke-width="0.4"/>
<circle cx="241" cy="19.19" r="0.65" fill="#fff" stroke="#777" stroke-width="0.4"/>
<circle cx="249" cy="19.73" r="0.65" fill="#fff" stroke="#777" stroke-width="0.4"/>
<circle cx="257" cy="20.43" r="0.65" fill="#fff" stroke="#777" stroke-width="0.4"/>
<circle cx="265" cy="21.34" r="0.65" fill="#fff" stroke="#777" stroke-width="0.4"/>
<circle cx="273" cy="22.45" r="0.65" fill="#fff" stroke="#777" stroke-width="0.4"/>
<circle cx="281" cy="23.73" r="0.65" fill="#fff" stroke="#777" stroke-width="0.4"/>
<circle cx="289" cy="24.98" r="0.65" fill="#fff" stroke="#777" stroke-width="0.4"/>
<circle cx="297" cy="26.26" r="0.65" fill="#fff" stroke="#777" stroke-width="0.4"/>
<circle cx="305" cy="27.66" r="0.65" fill="#fff" stroke="#777" stroke-width="0.4"/>
<circle cx="313" cy="29.15" r="0.65" fill="#fff" stroke="#777" stroke-width="0.4"/>
<circle cx="321" cy="30.76" r="0.65" fill="#fff" stroke="#777" stroke-width="0.4"/>
<circle cx="329" cy="32.47" r="0.65" fill="#fff" stroke="#777" stroke-width="0.4"/>
<circle cx="337" cy="34.29" r="0.65" fill="#fff" stroke="#777" stroke-width="0.4"/>
<circle cx="345" cy="36.21" r="0.65" fill="#fff" stroke="#777" stroke-width="0.4"/>
<circle cx="353" cy="38.25" r="0.65" fill="#fff" stroke="#777" stroke-width="0.4"/>
<circle cx="361" cy="40.39" r="0.65" fill="#fff" stroke="#777" stroke-width="0.4"/>
<polyline points="205,17.9 206.79,17.99 208.58,18.09 210.37,18.18 212.16,18.28 213.95,18.37 215.74,18.47 217.53,18.57 219.32,18.67 221.11,18.78 222.9,18.88 224.69,18.98 226.48,19.09 228.27,19.2 230.06,19.3 231.85,19.41 233.64,19.51 235.43,19.61 237.22,19.71 239.01,19.81 240.8,19.92 242.59,20.03 244.38,20.15 246.17,20.28 247.96,20.42 249.75,20.58 251.54,20.75 253.33,20.96 255.12,21.2 256.91,21.46 258.7,21.74 260.49,22.03 262.28,22.33 264.07,22.63 265.86,22.93 267.65,23.22 269.44,23.53 271.23,23.84 273.02,24.16 274.81,24.49 276.6,24.83 278.39,25.17 280.18,25.51 281.97,25.86 283.76,26.21 285.54,26.56 287.33,26.92 289.12,27.29 290.91,27.66 292.7,28.03 294.49,28.41 296.28,28.8 298.07,29.19 299.86,29.59 301.65,30 303.44,30.41 305.23,30.82 307.02,31.24 308.81,31.67 310.6,32.1 312.39,32.55 314.18,33 315.97,33.45 317.76,33.92 319.55,34.4 321.34,34.89 323.13,35.39 324.92,35.9 326.71,36.42 328.5,36.95 330.29,37.48 332.08,38.01 333.87,38.55 335.66,39.09 337.45,39.63 339.24,40.17 341.03,40.71 342.82,41.25 344.61,41.8 346.4,42.35 348.19,42.9 349.98,43.45 351.77,44.01 353.56,44.57 355.35,45.14 357.14,45.7 358.93,46.27 360.72,46.85 362.51,47.42 364.3,48" fill="none" stroke="#5a5a5a" stroke-width="0.55"/>
<circle cx="208.25" cy="18.07" r="0.7" fill="#5a5a5a" stroke="none"/>
<circle cx="214.75" cy="18.42" r="0.7" fill="#5a5a5a" stroke="none"/>
<circle cx="221.25" cy="18.78" r="0.7" fill="#5a5a5a" stroke="none"/>
<circle cx="227.75" cy="19.17" r="0.7" fill="#5a5a5a" stroke="none"/>
<circle cx="234.25" cy="19.55" r="0.7" fill="#5a5a5a" stroke="none"/>
<circle cx="240.75" cy="19.92" r="0.7" fill="#5a5a5a" stroke="none"/>
<circle cx="247.25" cy="20.37" r="0.7" fill="#5a5a5a" stroke="none"/>
<circle cx="253.75" cy="21.02" r="0.7" fill="#5a5a5a" stroke="none"/>
<circle cx="260.25" cy="21.99" r="0.7" fill="#5a5a5a" stroke="none"/>
<circle cx="266.75" cy="23.07" r="0.7" fill="#5a5a5a" stroke="none"/>
<circle cx="273.25" cy="24.21" r="0.7" fill="#5a5a5a" stroke="none"/>
<circle cx="279.75" cy="25.43" r="0.7" fill="#5a5a5a" stroke="none"/>
<circle cx="286.25" cy="26.7" r="0.7" fill="#5a5a5a" stroke="none"/>
<circle cx="292.75" cy="28.04" r="0.7" fill="#5a5a5a" stroke="none"/>
<circle cx="299.25" cy="29.46" r="0.7" fill="#5a5a5a" stroke="none"/>
<circle cx="305.75" cy="30.94" r="0.7" fill="#5a5a5a" stroke="none"/>
<circle cx="312.25" cy="32.51" r="0.7" fill="#5a5a5a" stroke="none"/>
<circle cx="318.75" cy="34.19" r="0.7" fill="#5a5a5a" stroke="none"/>
<circle cx="325.25" cy="36" r="0.7" fill="#5a5a5a" stroke="none"/>
<circle cx="331.75" cy="37.91" r="0.7" fill="#5a5a5a" stroke="none"/>
<circle cx="338.25" cy="39.87" r="0.7" fill="#5a5a5a" stroke="none"/>
<circle cx="344.75" cy="41.84" r="0.7" fill="#5a5a5a" stroke="none"/>
<circle cx="351.25" cy="43.85" r="0.7" fill="#5a5a5a" stroke="none"/>
<circle cx="357.75" cy="45.9" r="0.7" fill="#5a5a5a" stroke="none"/>
<circle cx="364.25" cy="47.98" r="0.7" fill="#5a5a5a" stroke="none"/>
<polyline points="205,18.3 206.79,18.35 208.58,18.41 210.37,18.48 212.16,18.56 213.95,18.65 215.74,18.76 217.53,18.87 219.32,18.98 221.11,19.11 222.9,19.24 224.69,19.38 226.48,19.52 228.27,19.66 230.06,19.8 231.85,19.96 233.64,20.13 235.43,20.33 237.22,20.55 239.01,20.79 240.8,21.06 242.59,21.39 244.38,21.78 246.17,22.19 247.96,22.62 249.75,23.04 251.54,23.46 253.33,23.87 255.12,24.29 256.91,24.72 258.7,25.16 260.49,25.61 262.28,26.08 264.07,26.57 265.86,27.07 267.65,27.6 269.44,28.16 271.23,28.75 273.02,29.36 274.81,30 276.6,30.64 278.39,31.3 280.18,31.96 281.97,32.63 283.76,33.29 285.54,33.97 287.33,34.66 289.12,35.36 290.91,36.07 292.7,36.79 294.49,37.52 296.28,38.26 298.07,39.01 299.86,39.77 301.65,40.54 303.44,41.33 305.23,42.13 307.02,42.94 308.81,43.76 310.6,44.58 312.39,45.4 314.18,46.24 315.97,47.08 317.76,47.93 319.55,48.78 321.34,49.64 323.13,50.5 324.92,51.36 326.71,52.22 328.5,53.08 330.29,53.94 332.08,54.8 333.87,55.66 335.66,56.53 337.45,57.4 339.24,58.26 341.03,59.13 342.82,60 344.61,60.87 346.4,61.75 348.19,62.62 349.98,63.49 351.77,64.36 353.56,65.24 355.35,66.11 357.14,66.99 358.93,67.86 360.72,68.74 362.51,69.62 364.3,70.5" fill="none" stroke="#777" stroke-width="0.65"/>
<circle cx="207.5" cy="18.37" r="0.65" fill="#fff" stroke="#777" stroke-width="0.4"/>
<circle cx="212.5" cy="18.58" r="0.65" fill="#fff" stroke="#777" stroke-width="0.4"/>
<circle cx="217.5" cy="18.86" r="0.65" fill="#fff" stroke="#777" stroke-width="0.4"/>
<circle cx="222.5" cy="19.21" r="0.65" fill="#fff" stroke="#777" stroke-width="0.4"/>
<circle cx="227.5" cy="19.6" r="0.65" fill="#fff" stroke="#777" stroke-width="0.4"/>
<circle cx="232.5" cy="20.02" r="0.65" fill="#fff" stroke="#777" stroke-width="0.4"/>
<circle cx="237.5" cy="20.58" r="0.65" fill="#fff" stroke="#777" stroke-width="0.4"/>
<circle cx="242.5" cy="21.38" r="0.65" fill="#fff" stroke="#777" stroke-width="0.4"/>
<circle cx="247.5" cy="22.51" r="0.65" fill="#fff" stroke="#777" stroke-width="0.4"/>
<circle cx="252.5" cy="23.68" r="0.65" fill="#fff" stroke="#777" stroke-width="0.4"/>
<circle cx="257.5" cy="24.87" r="0.65" fill="#fff" stroke="#777" stroke-width="0.4"/>
<circle cx="262.5" cy="26.14" r="0.65" fill="#fff" stroke="#777" stroke-width="0.4"/>
<circle cx="267.5" cy="27.56" r="0.65" fill="#fff" stroke="#777" stroke-width="0.4"/>
<circle cx="272.5" cy="29.19" r="0.65" fill="#fff" stroke="#777" stroke-width="0.4"/>
<circle cx="277.5" cy="30.97" r="0.65" fill="#fff" stroke="#777" stroke-width="0.4"/>
<circle cx="282.5" cy="32.83" r="0.65" fill="#fff" stroke="#777" stroke-width="0.4"/>
<circle cx="287.5" cy="34.73" r="0.65" fill="#fff" stroke="#777" stroke-width="0.4"/>
<circle cx="292.5" cy="36.71" r="0.65" fill="#fff" stroke="#777" stroke-width="0.4"/>
<circle cx="297.5" cy="38.77" r="0.65" fill="#fff" stroke="#777" stroke-width="0.4"/>
<circle cx="302.5" cy="40.91" r="0.65" fill="#fff" stroke="#777" stroke-width="0.4"/>
<circle cx="307.5" cy="43.16" r="0.65" fill="#fff" stroke="#777" stroke-width="0.4"/>
<circle cx="312.5" cy="45.45" r="0.65" fill="#fff" stroke="#777" stroke-width="0.4"/>
<circle cx="317.5" cy="47.81" r="0.65" fill="#fff" stroke="#777" stroke-width="0.4"/>
<circle cx="322.5" cy="50.19" r="0.65" fill="#fff" stroke="#777" stroke-width="0.4"/>
<circle cx="327.5" cy="52.6" r="0.65" fill="#fff" stroke="#777" stroke-width="0.4"/>
<circle cx="332.5" cy="55" r="0.65" fill="#fff" stroke="#777" stroke-width="0.4"/>
<circle cx="337.5" cy="57.42" r="0.65" fill="#fff" stroke="#777" stroke-width="0.4"/>
<circle cx="342.5" cy="59.85" r="0.65" fill="#fff" stroke="#777" stroke-width="0.4"/>
<circle cx="347.5" cy="62.28" r="0.65" fill="#fff" stroke="#777" stroke-width="0.4"/>
<circle cx="352.5" cy="64.72" r="0.65" fill="#fff" stroke="#777" stroke-width="0.4"/>
<circle cx="357.5" cy="67.16" r="0.65" fill="#fff" stroke="#777" stroke-width="0.4"/>
<circle cx="362.5" cy="69.62" r="0.65" fill="#fff" stroke="#777" stroke-width="0.4"/>
<polyline points="205,18.9 206.79,18.97 208.58,19.07 210.37,19.2 212.16,19.34 213.95,19.5 215.74,19.68 217.53,19.9 219.32,20.16 221.11,20.46 222.9,20.78 224.69,21.11 226.48,21.45 228.27,21.79 230.06,22.11 231.85,22.42 233.64,22.73 235.43,23.05 237.22,23.37 239.01,23.71 240.8,24.06 242.59,24.42 244.38,24.8 246.17,25.19 247.96,25.6 249.75,26.04 251.54,26.49 253.33,26.97 255.12,27.47 256.91,27.98 258.7,28.52 260.49,29.07 262.28,29.64 264.07,30.24 265.86,30.85 267.65,31.48 269.44,32.16 271.23,32.87 273.02,33.6 274.81,34.36 276.6,35.14 278.39,35.92 280.18,36.7 281.97,37.48 283.76,38.26 285.54,39.03 287.33,39.81 289.12,40.6 290.91,41.4 292.7,42.2 294.49,43.01 296.28,43.84 298.07,44.67 299.86,45.51 301.65,46.37 303.44,47.25 305.23,48.14 307.02,49.03 308.81,49.92 310.6,50.79 312.39,51.67 314.18,52.54 315.97,53.42 317.76,54.29 319.55,55.16 321.34,56.03 323.13,56.9 324.92,57.76 326.71,58.62 328.5,59.48 330.29,60.34 332.08,61.19 333.87,62.04 335.66,62.89 337.45,63.73 339.24,64.57 341.03,65.41 342.82,66.25 344.61,67.09 346.4,67.92 348.19,68.76 349.98,69.59 351.77,70.42 353.56,71.25 355.35,72.08 357.14,72.91 358.93,73.73 360.72,74.56 362.51,75.38 364.3,76.2" fill="none" stroke="#333" stroke-width="0.85"/>
<polyline points="204.75,75.2 206.16,60.55 207.56,48.79 208.97,39.3 210.38,34.32 211.79,29.96 213.19,27.48 214.6,25.92 216.01,24.94 217.42,24.29 218.82,23.89 220.23,23.57 221.64,23.41 223.04,23.43 224.45,23.54 225.86,23.68 227.27,23.9 228.67,24.21 230.08,24.52 231.49,24.78 232.9,25.02 234.3,25.27 235.71,25.51 237.12,25.76 238.53,26.01 239.93,26.29 241.34,26.58 242.75,26.88 244.15,27.19 245.56,27.51 246.97,27.84 248.38,28.19 249.78,28.54 251.19,28.91 252.6,29.29 254.01,29.67 255.41,30.07 256.82,30.47 258.23,30.89 259.63,31.32 261.04,31.75 262.45,32.21 263.86,32.67 265.26,33.14 266.67,33.63 268.08,34.14 269.49,34.68 270.89,35.24 272.3,35.81 273.71,36.41 275.12,37.01 276.52,37.62 277.93,38.23 279.34,38.85 280.74,39.46 282.15,40.07 283.56,40.67 284.97,41.27 286.37,41.88 287.78,42.5 289.19,43.12 290.6,43.74 292,44.36 293.41,44.98 294.82,45.6 296.22,46.21 297.63,46.82 299.04,47.42 300.45,48.01 301.85,48.59 303.26,49.17 304.67,49.75 306.08,50.32 307.48,50.89 308.89,51.46 310.3,52.04 311.71,52.62 313.11,53.2 314.52,53.8 315.93,54.4 317.33,55 318.74,55.61 320.15,56.22 321.56,56.83 322.96,57.45 324.37,58.08 325.78,58.7 327.19,59.33 328.59,59.96 330,60.6" fill="none" stroke="#5a5a5a" stroke-width="0.5"/>
<rect x="212.7" y="54.45" width="71" height="36" fill="#777"/>
<rect x="212" y="53.75" width="71" height="36" fill="#fff" stroke="#444" stroke-width="0.5"/>
<text transform="translate(213.5 57.65) scale(0.1)" font-size="37.5" text-anchor="start" fill="#000" font-weight="bold">GE Essential</text>
<text transform="translate(213.5 61.55) scale(0.1)" font-size="36.5" text-anchor="start" fill="#111">1</text>
<line x1="219" y1="60.4" x2="226.5" y2="60.4" stroke="#666" stroke-width="0.5"/>
<circle cx="222.75" cy="60.4" r="1.0" fill="#fff" stroke="#555" stroke-width="0.45"/>
<text transform="translate(228.5 61.55) scale(0.1)" font-size="36.5" text-anchor="start" fill="#111">Primary capture</text>
<text transform="translate(213.5 65.85) scale(0.1)" font-size="36.5" text-anchor="start" fill="#111">2+3</text>
<line x1="219" y1="64.7" x2="226.5" y2="64.7" stroke="#666" stroke-width="0.5"/>
<circle cx="222.75" cy="64.7" r="1.0" fill="#fff" stroke="#555" stroke-width="0.45"/>
<text transform="translate(228.5 65.85) scale(0.1)" font-size="36.5" text-anchor="start" fill="#111">Conversion and spreading</text>
<text transform="translate(213.5 70.15) scale(0.1)" font-size="36.5" text-anchor="start" fill="#111">4</text>
<line x1="219" y1="69" x2="226.5" y2="69" stroke="#666" stroke-width="0.5"/>
<path d="M221.75 68.2 l2 0 l-1 1.8 z" fill="#fff" stroke="#555" stroke-width="0.4"/>
<text transform="translate(228.5 70.15) scale(0.1)" font-size="36.5" text-anchor="start" fill="#111">Secondary capture (coupling)</text>
<text transform="translate(213.5 74.45) scale(0.1)" font-size="36.5" text-anchor="start" fill="#111">5</text>
<line x1="219" y1="73.3" x2="226.5" y2="73.3" stroke="#666" stroke-width="0.5"/>
<path d="M222.75 72.2 l1.1 1.1 l-1.1 1.1 l-1.1 -1.1 z" fill="#fff" stroke="#555" stroke-width="0.4"/>
<text transform="translate(228.5 74.45) scale(0.1)" font-size="36.5" text-anchor="start" fill="#111">Collection (presampled DQE)</text>
<text transform="translate(213.5 78.75) scale(0.1)" font-size="36.5" text-anchor="start" fill="#111">6</text>
<line x1="219" y1="77.6" x2="226.5" y2="77.6" stroke="#666" stroke-width="0.5"/>
<circle cx="222.75" cy="77.6" r="1.0" fill="#bbb" stroke="#555" stroke-width="0.45"/>
<text transform="translate(228.5 78.75) scale(0.1)" font-size="36.5" text-anchor="start" fill="#111">Sampling</text>
<text transform="translate(213.5 83.05) scale(0.1)" font-size="36.5" text-anchor="start" fill="#111">7a</text>
<line x1="219" y1="81.9" x2="226.5" y2="81.9" stroke="#2a2a2a" stroke-width="0.65"/>
<text transform="translate(228.5 83.05) scale(0.1)" font-size="36.5" text-anchor="start" fill="#111">+ electronic NPS (detector DQE)</text>
<text transform="translate(213.5 87.35) scale(0.1)" font-size="36.5" text-anchor="start" fill="#111">7b</text>
<line x1="219" y1="86.2" x2="226.5" y2="86.2" stroke="#555" stroke-width="0.6" stroke-dasharray="1.3 0.6"/>
<text transform="translate(228.5 87.35) scale(0.1)" font-size="36.5" text-anchor="start" fill="#111">+ fixed pattern NPS</text>
<text class="cap" transform="translate(284 113.8) scale(0.1)" font-size="88" text-anchor="middle" fill="#111" font-family='"Liberation Serif", serif'>(b)</text>
<line x1="16.5" y1="121.54" x2="16.5" y2="207.6" stroke="#4a4a4a" stroke-width="0.6"/>
<line x1="16.2" y1="207.3" x2="165.04" y2="207.3" stroke="#4a4a4a" stroke-width="0.6"/>
<line x1="14.8" y1="206.4" x2="16.5" y2="206.4" stroke="#444" stroke-width="0.55"/>
<text transform="translate(13.2 207.47) scale(0.1)" font-size="30" text-anchor="end" fill="#111">0.0</text>
<line x1="14.8" y1="195.83" x2="16.5" y2="195.83" stroke="#444" stroke-width="0.55"/>
<text transform="translate(13.2 196.9) scale(0.1)" font-size="30" text-anchor="end" fill="#111">0.1</text>
<line x1="14.8" y1="185.26" x2="16.5" y2="185.26" stroke="#444" stroke-width="0.55"/>
<text transform="translate(13.2 186.33) scale(0.1)" font-size="30" text-anchor="end" fill="#111">0.2</text>
<line x1="14.8" y1="174.69" x2="16.5" y2="174.69" stroke="#444" stroke-width="0.55"/>
<text transform="translate(13.2 175.76) scale(0.1)" font-size="30" text-anchor="end" fill="#111">0.3</text>
<line x1="14.8" y1="164.12" x2="16.5" y2="164.12" stroke="#444" stroke-width="0.55"/>
<text transform="translate(13.2 165.19) scale(0.1)" font-size="30" text-anchor="end" fill="#111">0.4</text>
<line x1="14.8" y1="153.55" x2="16.5" y2="153.55" stroke="#444" stroke-width="0.55"/>
<text transform="translate(13.2 154.62) scale(0.1)" font-size="30" text-anchor="end" fill="#111">0.5</text>
<line x1="14.8" y1="142.98" x2="16.5" y2="142.98" stroke="#444" stroke-width="0.55"/>
<text transform="translate(13.2 144.05) scale(0.1)" font-size="30" text-anchor="end" fill="#111">0.6</text>
<line x1="14.8" y1="132.41" x2="16.5" y2="132.41" stroke="#444" stroke-width="0.55"/>
<text transform="translate(13.2 133.48) scale(0.1)" font-size="30" text-anchor="end" fill="#111">0.7</text>
<line x1="14.8" y1="121.84" x2="16.5" y2="121.84" stroke="#444" stroke-width="0.55"/>
<text transform="translate(13.2 122.91) scale(0.1)" font-size="30" text-anchor="end" fill="#111">0.8</text>
<line x1="15.6" y1="201.12" x2="16.5" y2="201.12" stroke="#666" stroke-width="0.4"/>
<line x1="15.6" y1="190.55" x2="16.5" y2="190.55" stroke="#666" stroke-width="0.4"/>
<line x1="15.6" y1="179.97" x2="16.5" y2="179.97" stroke="#666" stroke-width="0.4"/>
<line x1="15.6" y1="169.41" x2="16.5" y2="169.41" stroke="#666" stroke-width="0.4"/>
<line x1="15.6" y1="158.84" x2="16.5" y2="158.84" stroke="#666" stroke-width="0.4"/>
<line x1="15.6" y1="148.26" x2="16.5" y2="148.26" stroke="#666" stroke-width="0.4"/>
<line x1="15.6" y1="137.69" x2="16.5" y2="137.69" stroke="#666" stroke-width="0.4"/>
<line x1="15.6" y1="127.12" x2="16.5" y2="127.12" stroke="#666" stroke-width="0.4"/>
<line x1="17.5" y1="207.3" x2="17.5" y2="209" stroke="#444" stroke-width="0.55"/>
<text transform="translate(17.5 213) scale(0.1)" font-size="30" text-anchor="middle" fill="#111">0</text>
<line x1="38.18" y1="207.3" x2="38.18" y2="209" stroke="#444" stroke-width="0.55"/>
<text transform="translate(38.18 213) scale(0.1)" font-size="30" text-anchor="middle" fill="#111">1</text>
<line x1="58.86" y1="207.3" x2="58.86" y2="209" stroke="#444" stroke-width="0.55"/>
<text transform="translate(58.86 213) scale(0.1)" font-size="30" text-anchor="middle" fill="#111">2</text>
<line x1="79.54" y1="207.3" x2="79.54" y2="209" stroke="#444" stroke-width="0.55"/>
<text transform="translate(79.54 213) scale(0.1)" font-size="30" text-anchor="middle" fill="#111">3</text>
<line x1="100.22" y1="207.3" x2="100.22" y2="209" stroke="#444" stroke-width="0.55"/>
<text transform="translate(100.22 213) scale(0.1)" font-size="30" text-anchor="middle" fill="#111">4</text>
<line x1="120.9" y1="207.3" x2="120.9" y2="209" stroke="#444" stroke-width="0.55"/>
<text transform="translate(120.9 213) scale(0.1)" font-size="30" text-anchor="middle" fill="#111">5</text>
<line x1="141.58" y1="207.3" x2="141.58" y2="209" stroke="#444" stroke-width="0.55"/>
<text transform="translate(141.58 213) scale(0.1)" font-size="30" text-anchor="middle" fill="#111">6</text>
<line x1="162.26" y1="207.3" x2="162.26" y2="209" stroke="#444" stroke-width="0.55"/>
<text transform="translate(162.26 213) scale(0.1)" font-size="30" text-anchor="middle" fill="#111">7</text>
<text transform="translate(91.12 220.2) scale(0.1)" font-size="37.5" text-anchor="middle" fill="#111">Spatial frequency [mm<tspan dy="-13" font-size="24">-1</tspan><tspan dy="13">]</tspan></text>
<text transform="translate(4.4 165.32) rotate(-90) scale(0.1)" font-size="38" text-anchor="middle" fill="#111">DQE</text>
<line x1="19.3" y1="121.81" x2="165.24" y2="121.81" stroke="#9c9c9c" stroke-width="1.25"/>
<ellipse cx="19.3" cy="121.81" rx="0.85" ry="1.15" fill="#fff" stroke="#a5a5a5" stroke-width="0.4"/>
<ellipse cx="25.5" cy="121.81" rx="0.85" ry="1.15" fill="#fff" stroke="#a5a5a5" stroke-width="0.4"/>
<ellipse cx="31.7" cy="121.81" rx="0.85" ry="1.15" fill="#fff" stroke="#a5a5a5" stroke-width="0.4"/>
<ellipse cx="37.9" cy="121.81" rx="0.85" ry="1.15" fill="#fff" stroke="#a5a5a5" stroke-width="0.4"/>
<ellipse cx="44.1" cy="121.81" rx="0.85" ry="1.15" fill="#fff" stroke="#a5a5a5" stroke-width="0.4"/>
<ellipse cx="50.3" cy="121.81" rx="0.85" ry="1.15" fill="#fff" stroke="#a5a5a5" stroke-width="0.4"/>
<ellipse cx="56.5" cy="121.81" rx="0.85" ry="1.15" fill="#fff" stroke="#a5a5a5" stroke-width="0.4"/>
<ellipse cx="62.7" cy="121.81" rx="0.85" ry="1.15" fill="#fff" stroke="#a5a5a5" stroke-width="0.4"/>
<ellipse cx="68.9" cy="121.81" rx="0.85" ry="1.15" fill="#fff" stroke="#a5a5a5" stroke-width="0.4"/>
<ellipse cx="75.1" cy="121.81" rx="0.85" ry="1.15" fill="#fff" stroke="#a5a5a5" stroke-width="0.4"/>
<ellipse cx="81.3" cy="121.81" rx="0.85" ry="1.15" fill="#fff" stroke="#a5a5a5" stroke-width="0.4"/>
<ellipse cx="87.5" cy="121.81" rx="0.85" ry="1.15" fill="#fff" stroke="#a5a5a5" stroke-width="0.4"/>
<ellipse cx="93.7" cy="121.81" rx="0.85" ry="1.15" fill="#fff" stroke="#a5a5a5" stroke-width="0.4"/>
<ellipse cx="99.9" cy="121.81" rx="0.85" ry="1.15" fill="#fff" stroke="#a5a5a5" stroke-width="0.4"/>
<ellipse cx="106.1" cy="121.81" rx="0.85" ry="1.15" fill="#fff" stroke="#a5a5a5" stroke-width="0.4"/>
<ellipse cx="112.3" cy="121.81" rx="0.85" ry="1.15" fill="#fff" stroke="#a5a5a5" stroke-width="0.4"/>
<ellipse cx="118.5" cy="121.81" rx="0.85" ry="1.15" fill="#fff" stroke="#a5a5a5" stroke-width="0.4"/>
<ellipse cx="124.7" cy="121.81" rx="0.85" ry="1.15" fill="#fff" stroke="#a5a5a5" stroke-width="0.4"/>
<ellipse cx="130.9" cy="121.81" rx="0.85" ry="1.15" fill="#fff" stroke="#a5a5a5" stroke-width="0.4"/>
<ellipse cx="137.1" cy="121.81" rx="0.85" ry="1.15" fill="#fff" stroke="#a5a5a5" stroke-width="0.4"/>
<ellipse cx="143.3" cy="121.81" rx="0.85" ry="1.15" fill="#fff" stroke="#a5a5a5" stroke-width="0.4"/>
<ellipse cx="149.5" cy="121.81" rx="0.85" ry="1.15" fill="#fff" stroke="#a5a5a5" stroke-width="0.4"/>
<ellipse cx="155.7" cy="121.81" rx="0.85" ry="1.15" fill="#fff" stroke="#a5a5a5" stroke-width="0.4"/>
<ellipse cx="161.9" cy="121.81" rx="0.85" ry="1.15" fill="#fff" stroke="#a5a5a5" stroke-width="0.4"/>
<line x1="19.3" y1="126.75" x2="165.24" y2="126.75" stroke="#9c9c9c" stroke-width="1.25"/>
<ellipse cx="19.3" cy="126.75" rx="0.85" ry="1.15" fill="#fff" stroke="#a5a5a5" stroke-width="0.4"/>
<ellipse cx="25.5" cy="126.75" rx="0.85" ry="1.15" fill="#fff" stroke="#a5a5a5" stroke-width="0.4"/>
<ellipse cx="31.7" cy="126.75" rx="0.85" ry="1.15" fill="#fff" stroke="#a5a5a5" stroke-width="0.4"/>
<ellipse cx="37.9" cy="126.75" rx="0.85" ry="1.15" fill="#fff" stroke="#a5a5a5" stroke-width="0.4"/>
<ellipse cx="44.1" cy="126.75" rx="0.85" ry="1.15" fill="#fff" stroke="#a5a5a5" stroke-width="0.4"/>
<ellipse cx="50.3" cy="126.75" rx="0.85" ry="1.15" fill="#fff" stroke="#a5a5a5" stroke-width="0.4"/>
<ellipse cx="56.5" cy="126.75" rx="0.85" ry="1.15" fill="#fff" stroke="#a5a5a5" stroke-width="0.4"/>
<ellipse cx="62.7" cy="126.75" rx="0.85" ry="1.15" fill="#fff" stroke="#a5a5a5" stroke-width="0.4"/>
<ellipse cx="68.9" cy="126.75" rx="0.85" ry="1.15" fill="#fff" stroke="#a5a5a5" stroke-width="0.4"/>
<ellipse cx="75.1" cy="126.75" rx="0.85" ry="1.15" fill="#fff" stroke="#a5a5a5" stroke-width="0.4"/>
<ellipse cx="81.3" cy="126.75" rx="0.85" ry="1.15" fill="#fff" stroke="#a5a5a5" stroke-width="0.4"/>
<ellipse cx="87.5" cy="126.75" rx="0.85" ry="1.15" fill="#fff" stroke="#a5a5a5" stroke-width="0.4"/>
<ellipse cx="93.7" cy="126.75" rx="0.85" ry="1.15" fill="#fff" stroke="#a5a5a5" stroke-width="0.4"/>
<ellipse cx="99.9" cy="126.75" rx="0.85" ry="1.15" fill="#fff" stroke="#a5a5a5" stroke-width="0.4"/>
<ellipse cx="106.1" cy="126.75" rx="0.85" ry="1.15" fill="#fff" stroke="#a5a5a5" stroke-width="0.4"/>
<ellipse cx="112.3" cy="126.75" rx="0.85" ry="1.15" fill="#fff" stroke="#a5a5a5" stroke-width="0.4"/>
<ellipse cx="118.5" cy="126.75" rx="0.85" ry="1.15" fill="#fff" stroke="#a5a5a5" stroke-width="0.4"/>
<ellipse cx="124.7" cy="126.75" rx="0.85" ry="1.15" fill="#fff" stroke="#a5a5a5" stroke-width="0.4"/>
<ellipse cx="130.9" cy="126.75" rx="0.85" ry="1.15" fill="#fff" stroke="#a5a5a5" stroke-width="0.4"/>
<ellipse cx="137.1" cy="126.75" rx="0.85" ry="1.15" fill="#fff" stroke="#a5a5a5" stroke-width="0.4"/>
<ellipse cx="143.3" cy="126.75" rx="0.85" ry="1.15" fill="#fff" stroke="#a5a5a5" stroke-width="0.4"/>
<ellipse cx="149.5" cy="126.75" rx="0.85" ry="1.15" fill="#fff" stroke="#a5a5a5" stroke-width="0.4"/>
<ellipse cx="155.7" cy="126.75" rx="0.85" ry="1.15" fill="#fff" stroke="#a5a5a5" stroke-width="0.4"/>
<ellipse cx="161.9" cy="126.75" rx="0.85" ry="1.15" fill="#fff" stroke="#a5a5a5" stroke-width="0.4"/>
<polyline points="18.9,134.3 20.54,134.32 22.19,134.35 23.83,134.38 25.48,134.4 27.12,134.44 28.76,134.47 30.41,134.51 32.05,134.55 33.69,134.59 35.34,134.64 36.98,134.69 38.63,134.75 40.27,134.81 41.91,134.87 43.56,134.93 45.2,135 46.84,135.07 48.49,135.14 50.13,135.21 51.78,135.29 53.42,135.37 55.06,135.46 56.71,135.55 58.35,135.65 60,135.76 61.64,135.87 63.28,135.98 64.93,136.1 66.57,136.23 68.21,136.35 69.86,136.48 71.5,136.61 73.15,136.74 74.79,136.88 76.43,137.01 78.08,137.15 79.72,137.29 81.37,137.42 83.01,137.55 84.65,137.69 86.3,137.82 87.94,137.94 89.58,138.07 91.23,138.19 92.87,138.31 94.52,138.44 96.16,138.56 97.8,138.68 99.45,138.81 101.09,138.93 102.73,139.05 104.38,139.18 106.02,139.3 107.67,139.42 109.31,139.55 110.95,139.67 112.6,139.8 114.24,139.92 115.89,140.04 117.53,140.17 119.17,140.29 120.82,140.41 122.46,140.54 124.1,140.66 125.75,140.78 127.39,140.91 129.04,141.03 130.68,141.15 132.32,141.27 133.97,141.39 135.61,141.52 137.26,141.64 138.9,141.76 140.54,141.88 142.19,142 143.83,142.13 145.47,142.25 147.12,142.37 148.76,142.49 150.41,142.61 152.05,142.73 153.69,142.85 155.34,142.98 156.98,143.1 158.62,143.22 160.27,143.34 161.91,143.46 163.56,143.58 165.2,143.7" fill="none" stroke="#5a5a5a" stroke-width="0.6"/>
<circle cx="20.55" cy="134.32" r="0.65" fill="#fff" stroke="#5a5a5a" stroke-width="0.4"/>
<circle cx="23.85" cy="134.38" r="0.65" fill="#fff" stroke="#5a5a5a" stroke-width="0.4"/>
<circle cx="27.15" cy="134.44" r="0.65" fill="#fff" stroke="#5a5a5a" stroke-width="0.4"/>
<circle cx="30.45" cy="134.51" r="0.65" fill="#fff" stroke="#5a5a5a" stroke-width="0.4"/>
<circle cx="33.75" cy="134.6" r="0.65" fill="#fff" stroke="#5a5a5a" stroke-width="0.4"/>
<circle cx="37.05" cy="134.7" r="0.65" fill="#fff" stroke="#5a5a5a" stroke-width="0.4"/>
<circle cx="40.35" cy="134.81" r="0.65" fill="#fff" stroke="#5a5a5a" stroke-width="0.4"/>
<circle cx="43.65" cy="134.93" r="0.65" fill="#fff" stroke="#5a5a5a" stroke-width="0.4"/>
<circle cx="46.95" cy="135.07" r="0.65" fill="#fff" stroke="#5a5a5a" stroke-width="0.4"/>
<circle cx="50.25" cy="135.22" r="0.65" fill="#fff" stroke="#5a5a5a" stroke-width="0.4"/>
<circle cx="53.55" cy="135.38" r="0.65" fill="#fff" stroke="#5a5a5a" stroke-width="0.4"/>
<circle cx="56.85" cy="135.56" r="0.65" fill="#fff" stroke="#5a5a5a" stroke-width="0.4"/>
<circle cx="60.15" cy="135.77" r="0.65" fill="#fff" stroke="#5a5a5a" stroke-width="0.4"/>
<circle cx="63.45" cy="135.99" r="0.65" fill="#fff" stroke="#5a5a5a" stroke-width="0.4"/>
<circle cx="66.75" cy="136.24" r="0.65" fill="#fff" stroke="#5a5a5a" stroke-width="0.4"/>
<circle cx="70.05" cy="136.5" r="0.65" fill="#fff" stroke="#5a5a5a" stroke-width="0.4"/>
<circle cx="73.35" cy="136.76" r="0.65" fill="#fff" stroke="#5a5a5a" stroke-width="0.4"/>
<circle cx="76.65" cy="137.03" r="0.65" fill="#fff" stroke="#5a5a5a" stroke-width="0.4"/>
<circle cx="79.95" cy="137.3" r="0.65" fill="#fff" stroke="#5a5a5a" stroke-width="0.4"/>
<circle cx="83.25" cy="137.57" r="0.65" fill="#fff" stroke="#5a5a5a" stroke-width="0.4"/>
<circle cx="86.55" cy="137.84" r="0.65" fill="#fff" stroke="#5a5a5a" stroke-width="0.4"/>
<circle cx="89.85" cy="138.09" r="0.65" fill="#fff" stroke="#5a5a5a" stroke-width="0.4"/>
<circle cx="93.15" cy="138.33" r="0.65" fill="#fff" stroke="#5a5a5a" stroke-width="0.4"/>
<circle cx="96.45" cy="138.58" r="0.65" fill="#fff" stroke="#5a5a5a" stroke-width="0.4"/>
<circle cx="99.75" cy="138.83" r="0.65" fill="#fff" stroke="#5a5a5a" stroke-width="0.4"/>
<circle cx="103.05" cy="139.08" r="0.65" fill="#fff" stroke="#5a5a5a" stroke-width="0.4"/>
<circle cx="106.35" cy="139.32" r="0.65" fill="#fff" stroke="#5a5a5a" stroke-width="0.4"/>
<circle cx="109.65" cy="139.57" r="0.65" fill="#fff" stroke="#5a5a5a" stroke-width="0.4"/>
<circle cx="112.95" cy="139.82" r="0.65" fill="#fff" stroke="#5a5a5a" stroke-width="0.4"/>
<circle cx="116.25" cy="140.07" r="0.65" fill="#fff" stroke="#5a5a5a" stroke-width="0.4"/>
<circle cx="119.55" cy="140.32" r="0.65" fill="#fff" stroke="#5a5a5a" stroke-width="0.4"/>
<circle cx="122.85" cy="140.57" r="0.65" fill="#fff" stroke="#5a5a5a" stroke-width="0.4"/>
<circle cx="126.15" cy="140.81" r="0.65" fill="#fff" stroke="#5a5a5a" stroke-width="0.4"/>
<circle cx="129.45" cy="141.06" r="0.65" fill="#fff" stroke="#5a5a5a" stroke-width="0.4"/>
<circle cx="132.75" cy="141.3" r="0.65" fill="#fff" stroke="#5a5a5a" stroke-width="0.4"/>
<circle cx="136.05" cy="141.55" r="0.65" fill="#fff" stroke="#5a5a5a" stroke-width="0.4"/>
<circle cx="139.35" cy="141.79" r="0.65" fill="#fff" stroke="#5a5a5a" stroke-width="0.4"/>
<circle cx="142.65" cy="142.04" r="0.65" fill="#fff" stroke="#5a5a5a" stroke-width="0.4"/>
<circle cx="145.95" cy="142.28" r="0.65" fill="#fff" stroke="#5a5a5a" stroke-width="0.4"/>
<circle cx="149.25" cy="142.53" r="0.65" fill="#fff" stroke="#5a5a5a" stroke-width="0.4"/>
<circle cx="152.55" cy="142.77" r="0.65" fill="#fff" stroke="#5a5a5a" stroke-width="0.4"/>
<circle cx="155.85" cy="143.01" r="0.65" fill="#fff" stroke="#5a5a5a" stroke-width="0.4"/>
<circle cx="159.15" cy="143.26" r="0.65" fill="#fff" stroke="#5a5a5a" stroke-width="0.4"/>
<circle cx="162.45" cy="143.5" r="0.65" fill="#fff" stroke="#5a5a5a" stroke-width="0.4"/>
<polyline points="18.9,136.8 20.54,136.82 22.19,136.85 23.83,136.88 25.48,136.9 27.12,136.94 28.76,136.97 30.41,137.01 32.05,137.05 33.69,137.09 35.34,137.14 36.98,137.19 38.63,137.25 40.27,137.31 41.91,137.37 43.56,137.43 45.2,137.5 46.84,137.57 48.49,137.64 50.13,137.71 51.78,137.79 53.42,137.87 55.06,137.96 56.71,138.05 58.35,138.15 60,138.26 61.64,138.37 63.28,138.48 64.93,138.6 66.57,138.73 68.21,138.85 69.86,138.98 71.5,139.11 73.15,139.24 74.79,139.38 76.43,139.51 78.08,139.65 79.72,139.79 81.37,139.92 83.01,140.05 84.65,140.19 86.3,140.32 87.94,140.44 89.58,140.57 91.23,140.69 92.87,140.81 94.52,140.94 96.16,141.06 97.8,141.18 99.45,141.31 101.09,141.43 102.73,141.55 104.38,141.68 106.02,141.8 107.67,141.92 109.31,142.05 110.95,142.17 112.6,142.3 114.24,142.42 115.89,142.54 117.53,142.67 119.17,142.79 120.82,142.91 122.46,143.04 124.1,143.16 125.75,143.28 127.39,143.41 129.04,143.53 130.68,143.65 132.32,143.77 133.97,143.89 135.61,144.02 137.26,144.14 138.9,144.26 140.54,144.38 142.19,144.5 143.83,144.63 145.47,144.75 147.12,144.87 148.76,144.99 150.41,145.11 152.05,145.23 153.69,145.35 155.34,145.48 156.98,145.6 158.62,145.72 160.27,145.84 161.91,145.96 163.56,146.08 165.2,146.2" fill="none" stroke="#5a5a5a" stroke-width="0.6"/>
<circle cx="20.55" cy="136.82" r="0.65" fill="#fff" stroke="#5a5a5a" stroke-width="0.4"/>
<circle cx="23.85" cy="136.88" r="0.65" fill="#fff" stroke="#5a5a5a" stroke-width="0.4"/>
<circle cx="27.15" cy="136.94" r="0.65" fill="#fff" stroke="#5a5a5a" stroke-width="0.4"/>
<circle cx="30.45" cy="137.01" r="0.65" fill="#fff" stroke="#5a5a5a" stroke-width="0.4"/>
<circle cx="33.75" cy="137.1" r="0.65" fill="#fff" stroke="#5a5a5a" stroke-width="0.4"/>
<circle cx="37.05" cy="137.2" r="0.65" fill="#fff" stroke="#5a5a5a" stroke-width="0.4"/>
<circle cx="40.35" cy="137.31" r="0.65" fill="#fff" stroke="#5a5a5a" stroke-width="0.4"/>
<circle cx="43.65" cy="137.43" r="0.65" fill="#fff" stroke="#5a5a5a" stroke-width="0.4"/>
<circle cx="46.95" cy="137.57" r="0.65" fill="#fff" stroke="#5a5a5a" stroke-width="0.4"/>
<circle cx="50.25" cy="137.72" r="0.65" fill="#fff" stroke="#5a5a5a" stroke-width="0.4"/>
<circle cx="53.55" cy="137.88" r="0.65" fill="#fff" stroke="#5a5a5a" stroke-width="0.4"/>
<circle cx="56.85" cy="138.06" r="0.65" fill="#fff" stroke="#5a5a5a" stroke-width="0.4"/>
<circle cx="60.15" cy="138.27" r="0.65" fill="#fff" stroke="#5a5a5a" stroke-width="0.4"/>
<circle cx="63.45" cy="138.49" r="0.65" fill="#fff" stroke="#5a5a5a" stroke-width="0.4"/>
<circle cx="66.75" cy="138.74" r="0.65" fill="#fff" stroke="#5a5a5a" stroke-width="0.4"/>
<circle cx="70.05" cy="139" r="0.65" fill="#fff" stroke="#5a5a5a" stroke-width="0.4"/>
<circle cx="73.35" cy="139.26" r="0.65" fill="#fff" stroke="#5a5a5a" stroke-width="0.4"/>
<circle cx="76.65" cy="139.53" r="0.65" fill="#fff" stroke="#5a5a5a" stroke-width="0.4"/>
<circle cx="79.95" cy="139.8" r="0.65" fill="#fff" stroke="#5a5a5a" stroke-width="0.4"/>
<circle cx="83.25" cy="140.07" r="0.65" fill="#fff" stroke="#5a5a5a" stroke-width="0.4"/>
<circle cx="86.55" cy="140.34" r="0.65" fill="#fff" stroke="#5a5a5a" stroke-width="0.4"/>
<circle cx="89.85" cy="140.59" r="0.65" fill="#fff" stroke="#5a5a5a" stroke-width="0.4"/>
<circle cx="93.15" cy="140.83" r="0.65" fill="#fff" stroke="#5a5a5a" stroke-width="0.4"/>
<circle cx="96.45" cy="141.08" r="0.65" fill="#fff" stroke="#5a5a5a" stroke-width="0.4"/>
<circle cx="99.75" cy="141.33" r="0.65" fill="#fff" stroke="#5a5a5a" stroke-width="0.4"/>
<circle cx="103.05" cy="141.58" r="0.65" fill="#fff" stroke="#5a5a5a" stroke-width="0.4"/>
<circle cx="106.35" cy="141.82" r="0.65" fill="#fff" stroke="#5a5a5a" stroke-width="0.4"/>
<circle cx="109.65" cy="142.07" r="0.65" fill="#fff" stroke="#5a5a5a" stroke-width="0.4"/>
<circle cx="112.95" cy="142.32" r="0.65" fill="#fff" stroke="#5a5a5a" stroke-width="0.4"/>
<circle cx="116.25" cy="142.57" r="0.65" fill="#fff" stroke="#5a5a5a" stroke-width="0.4"/>
<circle cx="119.55" cy="142.82" r="0.65" fill="#fff" stroke="#5a5a5a" stroke-width="0.4"/>
<circle cx="122.85" cy="143.07" r="0.65" fill="#fff" stroke="#5a5a5a" stroke-width="0.4"/>
<circle cx="126.15" cy="143.31" r="0.65" fill="#fff" stroke="#5a5a5a" stroke-width="0.4"/>
<circle cx="129.45" cy="143.56" r="0.65" fill="#fff" stroke="#5a5a5a" stroke-width="0.4"/>
<circle cx="132.75" cy="143.8" r="0.65" fill="#fff" stroke="#5a5a5a" stroke-width="0.4"/>
<circle cx="136.05" cy="144.05" r="0.65" fill="#fff" stroke="#5a5a5a" stroke-width="0.4"/>
<circle cx="139.35" cy="144.29" r="0.65" fill="#fff" stroke="#5a5a5a" stroke-width="0.4"/>
<circle cx="142.65" cy="144.54" r="0.65" fill="#fff" stroke="#5a5a5a" stroke-width="0.4"/>
<circle cx="145.95" cy="144.78" r="0.65" fill="#fff" stroke="#5a5a5a" stroke-width="0.4"/>
<circle cx="149.25" cy="145.03" r="0.65" fill="#fff" stroke="#5a5a5a" stroke-width="0.4"/>
<circle cx="152.55" cy="145.27" r="0.65" fill="#fff" stroke="#5a5a5a" stroke-width="0.4"/>
<circle cx="155.85" cy="145.51" r="0.65" fill="#fff" stroke="#5a5a5a" stroke-width="0.4"/>
<circle cx="159.15" cy="145.76" r="0.65" fill="#fff" stroke="#5a5a5a" stroke-width="0.4"/>
<circle cx="162.45" cy="146" r="0.65" fill="#fff" stroke="#5a5a5a" stroke-width="0.4"/>
<polyline points="18.9,135.43 20.54,135.53 22.19,135.65 23.83,135.8 25.48,135.96 27.12,136.14 28.77,136.37 30.41,136.64 32.05,136.93 33.7,137.24 35.34,137.55 36.99,137.86 38.63,138.16 40.28,138.45 41.92,138.75 43.56,139.05 45.21,139.35 46.85,139.66 48.5,139.97 50.14,140.28 51.79,140.59 53.43,140.91 55.07,141.22 56.72,141.54 58.36,141.86 60.01,142.18 61.65,142.5 63.3,142.82 64.94,143.14 66.58,143.46 68.23,143.79 69.87,144.11 71.52,144.44 73.16,144.77 74.81,145.1 76.45,145.44 78.09,145.78 79.74,146.12 81.38,146.46 83.03,146.81 84.67,147.17 86.32,147.52 87.96,147.88 89.6,148.23 91.25,148.58 92.89,148.94 94.54,149.29 96.18,149.65 97.82,150.01 99.47,150.38 101.11,150.75 102.76,151.13 104.4,151.52 106.05,151.92 107.69,152.33 109.33,152.75 110.98,153.18 112.62,153.63 114.27,154.09 115.91,154.56 117.56,155.06 119.2,155.58 120.84,156.13 122.49,156.69 124.13,157.27 125.78,157.87 127.42,158.48 129.07,159.1 130.71,159.74 132.35,160.38 134,161.03 135.64,161.69 137.29,162.35 138.93,163.01 140.58,163.68 142.22,164.36 143.86,165.05 145.51,165.75 147.15,166.46 148.8,167.19 150.44,167.92 152.09,168.66 153.73,169.41 155.37,170.17 157.02,170.95 158.66,171.73 160.31,172.52 161.95,173.32 163.6,174.13 165.24,174.94" fill="none" stroke="#444" stroke-width="0.65"/>
<circle cx="21.9" cy="135.63" r="0.7" fill="#444" stroke="none"/>
<circle cx="27.9" cy="136.25" r="0.7" fill="#444" stroke="none"/>
<circle cx="33.9" cy="137.28" r="0.7" fill="#444" stroke="none"/>
<circle cx="39.9" cy="138.38" r="0.7" fill="#444" stroke="none"/>
<circle cx="45.9" cy="139.48" r="0.7" fill="#444" stroke="none"/>
<circle cx="51.9" cy="140.61" r="0.7" fill="#444" stroke="none"/>
<circle cx="57.9" cy="141.77" r="0.7" fill="#444" stroke="none"/>
<circle cx="63.9" cy="142.94" r="0.7" fill="#444" stroke="none"/>
<circle cx="69.9" cy="144.12" r="0.7" fill="#444" stroke="none"/>
<circle cx="75.9" cy="145.33" r="0.7" fill="#444" stroke="none"/>
<circle cx="81.9" cy="146.57" r="0.7" fill="#444" stroke="none"/>
<circle cx="87.9" cy="147.86" r="0.7" fill="#444" stroke="none"/>
<circle cx="93.9" cy="149.15" r="0.7" fill="#444" stroke="none"/>
<circle cx="99.9" cy="150.48" r="0.7" fill="#444" stroke="none"/>
<circle cx="105.9" cy="151.89" r="0.7" fill="#444" stroke="none"/>
<circle cx="111.9" cy="153.43" r="0.7" fill="#444" stroke="none"/>
<circle cx="117.9" cy="155.17" r="0.7" fill="#444" stroke="none"/>
<circle cx="123.9" cy="157.19" r="0.7" fill="#444" stroke="none"/>
<circle cx="129.9" cy="159.42" r="0.7" fill="#444" stroke="none"/>
<circle cx="135.9" cy="161.79" r="0.7" fill="#444" stroke="none"/>
<circle cx="141.9" cy="164.23" r="0.7" fill="#444" stroke="none"/>
<circle cx="147.9" cy="166.79" r="0.7" fill="#444" stroke="none"/>
<circle cx="153.9" cy="169.49" r="0.7" fill="#444" stroke="none"/>
<circle cx="159.9" cy="172.32" r="0.7" fill="#444" stroke="none"/>
<polyline points="18.9,148.55 20.54,144.84 22.19,143.52 23.83,142.97 25.48,142.72 27.12,142.74 28.77,142.84 30.41,142.99 32.05,143.19 33.7,143.41 35.34,143.63 36.99,143.87 38.63,144.16 40.28,144.49 41.92,144.85 43.56,145.22 45.21,145.58 46.85,145.95 48.5,146.32 50.14,146.71 51.79,147.08 53.43,147.44 55.07,147.79 56.72,148.14 58.36,148.49 60.01,148.86 61.65,149.26 63.3,149.68 64.94,150.12 66.58,150.58 68.23,151.05 69.87,151.53 71.52,152.03 73.16,152.53 74.81,153.03 76.45,153.54 78.09,154.05 79.74,154.55 81.38,155.05 83.03,155.54 84.67,156.02 86.32,156.49 87.96,156.96 89.6,157.42 91.25,157.87 92.89,158.32 94.54,158.77 96.18,159.22 97.82,159.67 99.47,160.12 101.11,160.57 102.76,161.02 104.4,161.48 106.05,161.94 107.69,162.41 109.33,162.89 110.98,163.37 112.62,163.86 114.27,164.37 115.91,164.88 117.56,165.41 119.2,165.96 120.84,166.51 122.49,167.08 124.13,167.65 125.78,168.23 127.42,168.82 129.07,169.4 130.71,169.99 132.35,170.58 134,171.17 135.64,171.75 137.29,172.33 138.93,172.89 140.58,173.46 142.22,174.02 143.86,174.58 145.51,175.14 147.15,175.7 148.8,176.25 150.44,176.81 152.09,177.36 153.73,177.92 155.37,178.47 157.02,179.02 158.66,179.58 160.31,180.13 161.95,180.67 163.6,181.22 165.24,181.77" fill="none" stroke="#222" stroke-width="0.9"/>
<polyline points="19.06,196.54 19.81,178.58 20.57,165.64 21.32,160.08 22.08,157.63 22.83,156.45 23.59,154.42 24.34,154.11 25.1,153.58 25.85,153.06 26.61,152.97 27.36,152.57 28.12,152.92 28.87,153.32 29.63,153.44 30.38,153.7 31.14,153.5 31.89,154.11 32.65,153.94 33.4,154.25 34.16,154.71 34.91,153.61 35.67,153.45 36.42,153.87 37.18,152.85 37.93,153.99 38.69,153.52 39.44,153.65 40.2,153.21 40.95,153.38 41.71,154 42.46,154.16 43.21,154.84 43.97,155.5 44.72,155.34 45.48,155.78 46.23,156.44 46.99,157.94 47.74,164.38 48.5,165.92 49.25,160.37 50.01,158.42 50.76,158.04 51.52,156.57 52.27,157.18 53.03,157.13 53.78,157.42 54.54,156.86 55.29,157.71 56.05,157.4 56.8,157.75 57.56,157.49 58.31,157.92 59.07,158.26 59.82,158.02 60.58,157.98 61.33,158.19 62.09,158.21 62.84,158.6 63.6,158.6 64.35,158.79 65.11,158.78 65.86,159.01 66.62,159.39 67.37,158.87 68.13,159.14 68.88,159.61 69.64,159.03 70.39,159.55 71.15,159.33 71.9,159.2 72.66,159.47 73.41,159.23 74.17,160.07 74.92,159.63 75.68,160.06 76.43,160.2 77.19,160.2 77.94,160.2 78.7,160.17 79.45,160.65 80.21,160.09 80.96,160.32 81.72,161.04 82.47,160.18 83.23,160.15 83.98,160.48 84.74,161.01 85.49,161.39 86.25,160.83 87,161.4 87.76,161 88.51,161.43 89.27,161.3 90.02,161.62 90.78,161.62 91.53,161.96 92.29,161.53 93.04,162.17 93.8,162.21 94.55,161.87 95.31,163.01 96.06,163.12 96.82,162.54 97.57,163.35 98.33,162.5 99.08,163.38 99.84,163.62 100.59,162.91 101.35,163.19 102.1,163.2 102.86,163.65 103.61,164.34 104.37,163.61 105.12,164.44 105.88,164.25 106.63,164.35 107.39,164.85 108.14,164.76 108.9,164.81 109.65,165.14 110.41,165.77 111.16,165.49 111.92,165.32 112.67,166.13 113.43,166.12 114.18,166.38 114.94,165.84 115.69,166.39 116.45,166.65 117.2,167.21 117.96,166.99 118.71,167.57 119.47,167.55 120.22,167.96 120.98,167.76 121.73,168 122.49,168.46 123.24,168.48 124,169.16 124.75,169.5 125.51,169.11 126.26,169.41 127.02,169.47 127.77,169.13 128.53,169.8 129.28,170.59 130.04,170.17 130.79,171.15 131.55,171.1 132.3,171.19 133.06,170.85 133.81,171.84 134.57,172.08 135.32,172.08 136.08,172.47 136.83,172.13 137.59,173.05 138.34,173.3 139.1,173.3" fill="none" stroke="#444" stroke-width="0.6"/>
<rect x="26.1" y="170.1" width="71.2" height="35.9" fill="#777"/>
<rect x="25.4" y="169.4" width="71.2" height="35.9" fill="#fff" stroke="#444" stroke-width="0.5"/>
<text transform="translate(26.75 174.3) scale(0.1)" font-size="37.5" text-anchor="start" fill="#000" font-weight="bold">Hologic Selenia Dimensions</text>
<text transform="translate(26.75 178.25) scale(0.1)" font-size="36.5" text-anchor="start" fill="#111">1</text>
<line x1="32.5" y1="177.1" x2="40" y2="177.1" stroke="#666" stroke-width="0.5"/>
<circle cx="36.25" cy="177.1" r="1.0" fill="#fff" stroke="#555" stroke-width="0.45"/>
<text transform="translate(41.25 178.25) scale(0.1)" font-size="36.5" text-anchor="start" fill="#111">Primary capture</text>
<text transform="translate(26.75 182.5) scale(0.1)" font-size="36.5" text-anchor="start" fill="#111">2+3</text>
<line x1="32.5" y1="181.35" x2="40" y2="181.35" stroke="#666" stroke-width="0.5"/>
<circle cx="36.25" cy="181.35" r="1.0" fill="#fff" stroke="#555" stroke-width="0.45"/>
<text transform="translate(41.25 182.5) scale(0.1)" font-size="36.5" text-anchor="start" fill="#111">Conversion and spreading</text>
<text transform="translate(26.75 186.75) scale(0.1)" font-size="36.5" text-anchor="start" fill="#111">4</text>
<line x1="32.5" y1="185.6" x2="40" y2="185.6" stroke="#666" stroke-width="0.5"/>
<path d="M35.25 184.8 l2 0 l-1 1.8 z" fill="#fff" stroke="#555" stroke-width="0.4"/>
<text transform="translate(41.25 186.75) scale(0.1)" font-size="36.5" text-anchor="start" fill="#111">Secondary capture (coupling)</text>
<text transform="translate(26.75 191) scale(0.1)" font-size="36.5" text-anchor="start" fill="#111">5</text>
<line x1="32.5" y1="189.85" x2="40" y2="189.85" stroke="#666" stroke-width="0.5"/>
<path d="M36.25 188.75 l1.1 1.1 l-1.1 1.1 l-1.1 -1.1 z" fill="#fff" stroke="#555" stroke-width="0.4"/>
<text transform="translate(41.25 191) scale(0.1)" font-size="36.5" text-anchor="start" fill="#111">Collection (presampled DQE)</text>
<text transform="translate(26.75 195.25) scale(0.1)" font-size="36.5" text-anchor="start" fill="#111">6</text>
<line x1="32.5" y1="194.1" x2="40" y2="194.1" stroke="#666" stroke-width="0.5"/>
<circle cx="36.25" cy="194.1" r="1.0" fill="#bbb" stroke="#555" stroke-width="0.45"/>
<text transform="translate(41.25 195.25) scale(0.1)" font-size="36.5" text-anchor="start" fill="#111">Sampling</text>
<text transform="translate(26.75 199.5) scale(0.1)" font-size="36.5" text-anchor="start" fill="#111">7a</text>
<line x1="32.5" y1="198.35" x2="40" y2="198.35" stroke="#2a2a2a" stroke-width="0.65"/>
<text transform="translate(41.25 199.5) scale(0.1)" font-size="36.5" text-anchor="start" fill="#111">+ electronic NPS (detector DQE)</text>
<text transform="translate(26.75 203.75) scale(0.1)" font-size="36.5" text-anchor="start" fill="#111">7b</text>
<line x1="32.5" y1="202.6" x2="40" y2="202.6" stroke="#555" stroke-width="0.6" stroke-dasharray="1.3 0.6"/>
<text transform="translate(41.25 203.75) scale(0.1)" font-size="36.5" text-anchor="start" fill="#111">+ fixed pattern NPS</text>
<text class="cap" transform="translate(92 229.9) scale(0.1)" font-size="88" text-anchor="middle" fill="#111" font-family='"Liberation Serif", serif'>(c)</text>
<line x1="202.5" y1="116.6" x2="202.5" y2="207.3" stroke="#4a4a4a" stroke-width="0.6"/>
<line x1="202.2" y1="207" x2="357.07" y2="207" stroke="#4a4a4a" stroke-width="0.6"/>
<line x1="200.8" y1="206.1" x2="202.5" y2="206.1" stroke="#444" stroke-width="0.55"/>
<text transform="translate(199.2 207.17) scale(0.1)" font-size="30" text-anchor="end" fill="#111">0.0</text>
<line x1="200.8" y1="194.95" x2="202.5" y2="194.95" stroke="#444" stroke-width="0.55"/>
<text transform="translate(199.2 196.02) scale(0.1)" font-size="30" text-anchor="end" fill="#111">0.1</text>
<line x1="200.8" y1="183.8" x2="202.5" y2="183.8" stroke="#444" stroke-width="0.55"/>
<text transform="translate(199.2 184.87) scale(0.1)" font-size="30" text-anchor="end" fill="#111">0.2</text>
<line x1="200.8" y1="172.65" x2="202.5" y2="172.65" stroke="#444" stroke-width="0.55"/>
<text transform="translate(199.2 173.72) scale(0.1)" font-size="30" text-anchor="end" fill="#111">0.3</text>
<line x1="200.8" y1="161.5" x2="202.5" y2="161.5" stroke="#444" stroke-width="0.55"/>
<text transform="translate(199.2 162.57) scale(0.1)" font-size="30" text-anchor="end" fill="#111">0.4</text>
<line x1="200.8" y1="150.35" x2="202.5" y2="150.35" stroke="#444" stroke-width="0.55"/>
<text transform="translate(199.2 151.42) scale(0.1)" font-size="30" text-anchor="end" fill="#111">0.5</text>
<line x1="200.8" y1="139.2" x2="202.5" y2="139.2" stroke="#444" stroke-width="0.55"/>
<text transform="translate(199.2 140.27) scale(0.1)" font-size="30" text-anchor="end" fill="#111">0.6</text>
<line x1="200.8" y1="128.05" x2="202.5" y2="128.05" stroke="#444" stroke-width="0.55"/>
<text transform="translate(199.2 129.12) scale(0.1)" font-size="30" text-anchor="end" fill="#111">0.7</text>
<line x1="200.8" y1="116.9" x2="202.5" y2="116.9" stroke="#444" stroke-width="0.55"/>
<text transform="translate(199.2 117.97) scale(0.1)" font-size="30" text-anchor="end" fill="#111">0.8</text>
<line x1="201.6" y1="200.53" x2="202.5" y2="200.53" stroke="#666" stroke-width="0.4"/>
<line x1="201.6" y1="189.38" x2="202.5" y2="189.38" stroke="#666" stroke-width="0.4"/>
<line x1="201.6" y1="178.22" x2="202.5" y2="178.22" stroke="#666" stroke-width="0.4"/>
<line x1="201.6" y1="167.07" x2="202.5" y2="167.07" stroke="#666" stroke-width="0.4"/>
<line x1="201.6" y1="155.92" x2="202.5" y2="155.92" stroke="#666" stroke-width="0.4"/>
<line x1="201.6" y1="144.77" x2="202.5" y2="144.77" stroke="#666" stroke-width="0.4"/>
<line x1="201.6" y1="133.62" x2="202.5" y2="133.62" stroke="#666" stroke-width="0.4"/>
<line x1="201.6" y1="122.47" x2="202.5" y2="122.47" stroke="#666" stroke-width="0.4"/>
<line x1="203.5" y1="207" x2="203.5" y2="208.7" stroke="#444" stroke-width="0.55"/>
<text transform="translate(203.5 212.7) scale(0.1)" font-size="30" text-anchor="middle" fill="#111">0</text>
<line x1="229.7" y1="207" x2="229.7" y2="208.7" stroke="#444" stroke-width="0.55"/>
<text transform="translate(229.7 212.7) scale(0.1)" font-size="30" text-anchor="middle" fill="#111">1</text>
<line x1="255.9" y1="207" x2="255.9" y2="208.7" stroke="#444" stroke-width="0.55"/>
<text transform="translate(255.9 212.7) scale(0.1)" font-size="30" text-anchor="middle" fill="#111">2</text>
<line x1="282.1" y1="207" x2="282.1" y2="208.7" stroke="#444" stroke-width="0.55"/>
<text transform="translate(282.1 212.7) scale(0.1)" font-size="30" text-anchor="middle" fill="#111">3</text>
<line x1="308.3" y1="207" x2="308.3" y2="208.7" stroke="#444" stroke-width="0.55"/>
<text transform="translate(308.3 212.7) scale(0.1)" font-size="30" text-anchor="middle" fill="#111">4</text>
<line x1="334.5" y1="207" x2="334.5" y2="208.7" stroke="#444" stroke-width="0.55"/>
<text transform="translate(334.5 212.7) scale(0.1)" font-size="30" text-anchor="middle" fill="#111">5</text>
<text transform="translate(281.2 218.8) scale(0.1)" font-size="37.5" text-anchor="middle" fill="#111">Spatial frequency [mm<tspan dy="-13" font-size="24">-1</tspan><tspan dy="13">]</tspan></text>
<text transform="translate(190.4 162.7) rotate(-90) scale(0.1)" font-size="38" text-anchor="middle" fill="#111">DQE</text>
<line x1="205.3" y1="120" x2="357.36" y2="120" stroke="#9c9c9c" stroke-width="1.25"/>
<ellipse cx="205.3" cy="120" rx="0.85" ry="1.15" fill="#fff" stroke="#a5a5a5" stroke-width="0.4"/>
<ellipse cx="211.6" cy="120" rx="0.85" ry="1.15" fill="#fff" stroke="#a5a5a5" stroke-width="0.4"/>
<ellipse cx="217.9" cy="120" rx="0.85" ry="1.15" fill="#fff" stroke="#a5a5a5" stroke-width="0.4"/>
<ellipse cx="224.2" cy="120" rx="0.85" ry="1.15" fill="#fff" stroke="#a5a5a5" stroke-width="0.4"/>
<ellipse cx="230.5" cy="120" rx="0.85" ry="1.15" fill="#fff" stroke="#a5a5a5" stroke-width="0.4"/>
<ellipse cx="236.8" cy="120" rx="0.85" ry="1.15" fill="#fff" stroke="#a5a5a5" stroke-width="0.4"/>
<ellipse cx="243.1" cy="120" rx="0.85" ry="1.15" fill="#fff" stroke="#a5a5a5" stroke-width="0.4"/>
<ellipse cx="249.4" cy="120" rx="0.85" ry="1.15" fill="#fff" stroke="#a5a5a5" stroke-width="0.4"/>
<ellipse cx="255.7" cy="120" rx="0.85" ry="1.15" fill="#fff" stroke="#a5a5a5" stroke-width="0.4"/>
<ellipse cx="262" cy="120" rx="0.85" ry="1.15" fill="#fff" stroke="#a5a5a5" stroke-width="0.4"/>
<ellipse cx="268.3" cy="120" rx="0.85" ry="1.15" fill="#fff" stroke="#a5a5a5" stroke-width="0.4"/>
<ellipse cx="274.6" cy="120" rx="0.85" ry="1.15" fill="#fff" stroke="#a5a5a5" stroke-width="0.4"/>
<ellipse cx="280.9" cy="120" rx="0.85" ry="1.15" fill="#fff" stroke="#a5a5a5" stroke-width="0.4"/>
<ellipse cx="287.2" cy="120" rx="0.85" ry="1.15" fill="#fff" stroke="#a5a5a5" stroke-width="0.4"/>
<ellipse cx="293.5" cy="120" rx="0.85" ry="1.15" fill="#fff" stroke="#a5a5a5" stroke-width="0.4"/>
<ellipse cx="299.8" cy="120" rx="0.85" ry="1.15" fill="#fff" stroke="#a5a5a5" stroke-width="0.4"/>
<ellipse cx="306.1" cy="120" rx="0.85" ry="1.15" fill="#fff" stroke="#a5a5a5" stroke-width="0.4"/>
<ellipse cx="312.4" cy="120" rx="0.85" ry="1.15" fill="#fff" stroke="#a5a5a5" stroke-width="0.4"/>
<ellipse cx="318.7" cy="120" rx="0.85" ry="1.15" fill="#fff" stroke="#a5a5a5" stroke-width="0.4"/>
<ellipse cx="325" cy="120" rx="0.85" ry="1.15" fill="#fff" stroke="#a5a5a5" stroke-width="0.4"/>
<ellipse cx="331.3" cy="120" rx="0.85" ry="1.15" fill="#fff" stroke="#a5a5a5" stroke-width="0.4"/>
<ellipse cx="337.6" cy="120" rx="0.85" ry="1.15" fill="#fff" stroke="#a5a5a5" stroke-width="0.4"/>
<ellipse cx="343.9" cy="120" rx="0.85" ry="1.15" fill="#fff" stroke="#a5a5a5" stroke-width="0.4"/>
<ellipse cx="350.2" cy="120" rx="0.85" ry="1.15" fill="#fff" stroke="#a5a5a5" stroke-width="0.4"/>
<ellipse cx="356.5" cy="120" rx="0.85" ry="1.15" fill="#fff" stroke="#a5a5a5" stroke-width="0.4"/>
<line x1="205.3" y1="125.01" x2="357.36" y2="125.01" stroke="#9c9c9c" stroke-width="1.25"/>
<ellipse cx="205.3" cy="125.01" rx="0.85" ry="1.15" fill="#fff" stroke="#a5a5a5" stroke-width="0.4"/>
<ellipse cx="211.6" cy="125.01" rx="0.85" ry="1.15" fill="#fff" stroke="#a5a5a5" stroke-width="0.4"/>
<ellipse cx="217.9" cy="125.01" rx="0.85" ry="1.15" fill="#fff" stroke="#a5a5a5" stroke-width="0.4"/>
<ellipse cx="224.2" cy="125.01" rx="0.85" ry="1.15" fill="#fff" stroke="#a5a5a5" stroke-width="0.4"/>
<ellipse cx="230.5" cy="125.01" rx="0.85" ry="1.15" fill="#fff" stroke="#a5a5a5" stroke-width="0.4"/>
<ellipse cx="236.8" cy="125.01" rx="0.85" ry="1.15" fill="#fff" stroke="#a5a5a5" stroke-width="0.4"/>
<ellipse cx="243.1" cy="125.01" rx="0.85" ry="1.15" fill="#fff" stroke="#a5a5a5" stroke-width="0.4"/>
<ellipse cx="249.4" cy="125.01" rx="0.85" ry="1.15" fill="#fff" stroke="#a5a5a5" stroke-width="0.4"/>
<ellipse cx="255.7" cy="125.01" rx="0.85" ry="1.15" fill="#fff" stroke="#a5a5a5" stroke-width="0.4"/>
<ellipse cx="262" cy="125.01" rx="0.85" ry="1.15" fill="#fff" stroke="#a5a5a5" stroke-width="0.4"/>
<ellipse cx="268.3" cy="125.01" rx="0.85" ry="1.15" fill="#fff" stroke="#a5a5a5" stroke-width="0.4"/>
<ellipse cx="274.6" cy="125.01" rx="0.85" ry="1.15" fill="#fff" stroke="#a5a5a5" stroke-width="0.4"/>
<ellipse cx="280.9" cy="125.01" rx="0.85" ry="1.15" fill="#fff" stroke="#a5a5a5" stroke-width="0.4"/>
<ellipse cx="287.2" cy="125.01" rx="0.85" ry="1.15" fill="#fff" stroke="#a5a5a5" stroke-width="0.4"/>
<ellipse cx="293.5" cy="125.01" rx="0.85" ry="1.15" fill="#fff" stroke="#a5a5a5" stroke-width="0.4"/>
<ellipse cx="299.8" cy="125.01" rx="0.85" ry="1.15" fill="#fff" stroke="#a5a5a5" stroke-width="0.4"/>
<ellipse cx="306.1" cy="125.01" rx="0.85" ry="1.15" fill="#fff" stroke="#a5a5a5" stroke-width="0.4"/>
<ellipse cx="312.4" cy="125.01" rx="0.85" ry="1.15" fill="#fff" stroke="#a5a5a5" stroke-width="0.4"/>
<ellipse cx="318.7" cy="125.01" rx="0.85" ry="1.15" fill="#fff" stroke="#a5a5a5" stroke-width="0.4"/>
<ellipse cx="325" cy="125.01" rx="0.85" ry="1.15" fill="#fff" stroke="#a5a5a5" stroke-width="0.4"/>
<ellipse cx="331.3" cy="125.01" rx="0.85" ry="1.15" fill="#fff" stroke="#a5a5a5" stroke-width="0.4"/>
<ellipse cx="337.6" cy="125.01" rx="0.85" ry="1.15" fill="#fff" stroke="#a5a5a5" stroke-width="0.4"/>
<ellipse cx="343.9" cy="125.01" rx="0.85" ry="1.15" fill="#fff" stroke="#a5a5a5" stroke-width="0.4"/>
<ellipse cx="350.2" cy="125.01" rx="0.85" ry="1.15" fill="#fff" stroke="#a5a5a5" stroke-width="0.4"/>
<ellipse cx="356.5" cy="125.01" rx="0.85" ry="1.15" fill="#fff" stroke="#a5a5a5" stroke-width="0.4"/>
<polyline points="205,137.6 206.71,137.61 208.42,137.63 210.14,137.65 211.85,137.67 213.56,137.7 215.27,137.73 216.98,137.76 218.69,137.8 220.41,137.84 222.12,137.89 223.83,137.93 225.54,137.98 227.25,138.03 228.97,138.08 230.68,138.13 232.39,138.18 234.1,138.24 235.81,138.29 237.53,138.35 239.24,138.42 240.95,138.49 242.66,138.58 244.37,138.66 246.08,138.76 247.8,138.86 249.51,138.96 251.22,139.06 252.93,139.17 254.64,139.29 256.36,139.4 258.07,139.52 259.78,139.63 261.49,139.75 263.2,139.86 264.91,139.98 266.63,140.09 268.34,140.2 270.05,140.3 271.76,140.41 273.47,140.51 275.19,140.62 276.9,140.72 278.61,140.83 280.32,140.94 282.03,141.04 283.75,141.15 285.46,141.26 287.17,141.37 288.88,141.48 290.59,141.58 292.3,141.69 294.02,141.81 295.73,141.92 297.44,142.03 299.15,142.14 300.86,142.26 302.58,142.37 304.29,142.49 306,142.6 307.71,142.72 309.42,142.84 311.13,142.96 312.85,143.07 314.56,143.19 316.27,143.31 317.98,143.43 319.69,143.56 321.41,143.68 323.12,143.8 324.83,143.92 326.54,144.05 328.25,144.17 329.97,144.3 331.68,144.43 333.39,144.55 335.1,144.68 336.81,144.81 338.52,144.94 340.24,145.07 341.95,145.21 343.66,145.34 345.37,145.48 347.08,145.61 348.8,145.75 350.51,145.89 352.22,146.03 353.93,146.17 355.64,146.31 357.36,146.45" fill="none" stroke="#5a5a5a" stroke-width="0.6"/>
<circle cx="208.15" cy="137.62" r="0.65" fill="#fff" stroke="#5a5a5a" stroke-width="0.4"/>
<circle cx="214.45" cy="137.72" r="0.65" fill="#fff" stroke="#5a5a5a" stroke-width="0.4"/>
<circle cx="220.75" cy="137.85" r="0.65" fill="#fff" stroke="#5a5a5a" stroke-width="0.4"/>
<circle cx="227.05" cy="138.02" r="0.65" fill="#fff" stroke="#5a5a5a" stroke-width="0.4"/>
<circle cx="233.35" cy="138.21" r="0.65" fill="#fff" stroke="#5a5a5a" stroke-width="0.4"/>
<circle cx="239.65" cy="138.44" r="0.65" fill="#fff" stroke="#5a5a5a" stroke-width="0.4"/>
<circle cx="245.95" cy="138.75" r="0.65" fill="#fff" stroke="#5a5a5a" stroke-width="0.4"/>
<circle cx="252.25" cy="139.13" r="0.65" fill="#fff" stroke="#5a5a5a" stroke-width="0.4"/>
<circle cx="258.55" cy="139.55" r="0.65" fill="#fff" stroke="#5a5a5a" stroke-width="0.4"/>
<circle cx="264.85" cy="139.97" r="0.65" fill="#fff" stroke="#5a5a5a" stroke-width="0.4"/>
<circle cx="271.15" cy="140.37" r="0.65" fill="#fff" stroke="#5a5a5a" stroke-width="0.4"/>
<circle cx="277.45" cy="140.76" r="0.65" fill="#fff" stroke="#5a5a5a" stroke-width="0.4"/>
<circle cx="283.75" cy="141.15" r="0.65" fill="#fff" stroke="#5a5a5a" stroke-width="0.4"/>
<circle cx="290.05" cy="141.55" r="0.65" fill="#fff" stroke="#5a5a5a" stroke-width="0.4"/>
<circle cx="296.35" cy="141.96" r="0.65" fill="#fff" stroke="#5a5a5a" stroke-width="0.4"/>
<circle cx="302.65" cy="142.38" r="0.65" fill="#fff" stroke="#5a5a5a" stroke-width="0.4"/>
<circle cx="308.95" cy="142.81" r="0.65" fill="#fff" stroke="#5a5a5a" stroke-width="0.4"/>
<circle cx="315.25" cy="143.24" r="0.65" fill="#fff" stroke="#5a5a5a" stroke-width="0.4"/>
<circle cx="321.55" cy="143.69" r="0.65" fill="#fff" stroke="#5a5a5a" stroke-width="0.4"/>
<circle cx="327.85" cy="144.14" r="0.65" fill="#fff" stroke="#5a5a5a" stroke-width="0.4"/>
<circle cx="334.15" cy="144.61" r="0.65" fill="#fff" stroke="#5a5a5a" stroke-width="0.4"/>
<circle cx="340.45" cy="145.09" r="0.65" fill="#fff" stroke="#5a5a5a" stroke-width="0.4"/>
<circle cx="346.75" cy="145.59" r="0.65" fill="#fff" stroke="#5a5a5a" stroke-width="0.4"/>
<circle cx="353.05" cy="146.09" r="0.65" fill="#fff" stroke="#5a5a5a" stroke-width="0.4"/>
<polyline points="205,139.6 206.71,139.61 208.42,139.62 210.14,139.64 211.85,139.66 213.56,139.69 215.27,139.72 216.98,139.76 218.69,139.79 220.41,139.84 222.12,139.88 223.83,139.92 225.54,139.97 227.25,140.02 228.97,140.07 230.68,140.13 232.39,140.18 234.1,140.24 235.81,140.29 237.53,140.35 239.24,140.42 240.95,140.5 242.66,140.58 244.37,140.66 246.08,140.76 247.8,140.86 249.51,140.96 251.22,141.07 252.93,141.18 254.64,141.3 256.36,141.42 258.07,141.54 259.78,141.66 261.49,141.78 263.2,141.91 264.91,142.03 266.63,142.16 268.34,142.28 270.05,142.4 271.76,142.53 273.47,142.66 275.19,142.79 276.9,142.93 278.61,143.08 280.32,143.22 282.03,143.37 283.75,143.52 285.46,143.67 287.17,143.82 288.88,143.97 290.59,144.12 292.3,144.27 294.02,144.42 295.73,144.56 297.44,144.7 299.15,144.83 300.86,144.97 302.58,145.09 304.29,145.22 306,145.34 307.71,145.46 309.42,145.58 311.13,145.7 312.85,145.82 314.56,145.93 316.27,146.05 317.98,146.17 319.69,146.28 321.41,146.4 323.12,146.51 324.83,146.63 326.54,146.75 328.25,146.87 329.97,147 331.68,147.12 333.39,147.25 335.1,147.38 336.81,147.52 338.52,147.65 340.24,147.79 341.95,147.93 343.66,148.07 345.37,148.21 347.08,148.36 348.8,148.5 350.51,148.65 352.22,148.79 353.93,148.94 355.64,149.09 357.36,149.24" fill="none" stroke="#5a5a5a" stroke-width="0.6"/>
<circle cx="208.15" cy="139.62" r="0.65" fill="#fff" stroke="#5a5a5a" stroke-width="0.4"/>
<circle cx="214.45" cy="139.71" r="0.65" fill="#fff" stroke="#5a5a5a" stroke-width="0.4"/>
<circle cx="220.75" cy="139.84" r="0.65" fill="#fff" stroke="#5a5a5a" stroke-width="0.4"/>
<circle cx="227.05" cy="140.02" r="0.65" fill="#fff" stroke="#5a5a5a" stroke-width="0.4"/>
<circle cx="233.35" cy="140.21" r="0.65" fill="#fff" stroke="#5a5a5a" stroke-width="0.4"/>
<circle cx="239.65" cy="140.44" r="0.65" fill="#fff" stroke="#5a5a5a" stroke-width="0.4"/>
<circle cx="245.95" cy="140.75" r="0.65" fill="#fff" stroke="#5a5a5a" stroke-width="0.4"/>
<circle cx="252.25" cy="141.14" r="0.65" fill="#fff" stroke="#5a5a5a" stroke-width="0.4"/>
<circle cx="258.55" cy="141.57" r="0.65" fill="#fff" stroke="#5a5a5a" stroke-width="0.4"/>
<circle cx="264.85" cy="142.03" r="0.65" fill="#fff" stroke="#5a5a5a" stroke-width="0.4"/>
<circle cx="271.15" cy="142.48" r="0.65" fill="#fff" stroke="#5a5a5a" stroke-width="0.4"/>
<circle cx="277.45" cy="142.98" r="0.65" fill="#fff" stroke="#5a5a5a" stroke-width="0.4"/>
<circle cx="283.75" cy="143.52" r="0.65" fill="#fff" stroke="#5a5a5a" stroke-width="0.4"/>
<circle cx="290.05" cy="144.07" r="0.65" fill="#fff" stroke="#5a5a5a" stroke-width="0.4"/>
<circle cx="296.35" cy="144.61" r="0.65" fill="#fff" stroke="#5a5a5a" stroke-width="0.4"/>
<circle cx="302.65" cy="145.1" r="0.65" fill="#fff" stroke="#5a5a5a" stroke-width="0.4"/>
<circle cx="308.95" cy="145.55" r="0.65" fill="#fff" stroke="#5a5a5a" stroke-width="0.4"/>
<circle cx="315.25" cy="145.98" r="0.65" fill="#fff" stroke="#5a5a5a" stroke-width="0.4"/>
<circle cx="321.55" cy="146.41" r="0.65" fill="#fff" stroke="#5a5a5a" stroke-width="0.4"/>
<circle cx="327.85" cy="146.85" r="0.65" fill="#fff" stroke="#5a5a5a" stroke-width="0.4"/>
<circle cx="334.15" cy="147.31" r="0.65" fill="#fff" stroke="#5a5a5a" stroke-width="0.4"/>
<circle cx="340.45" cy="147.81" r="0.65" fill="#fff" stroke="#5a5a5a" stroke-width="0.4"/>
<circle cx="346.75" cy="148.33" r="0.65" fill="#fff" stroke="#5a5a5a" stroke-width="0.4"/>
<circle cx="353.05" cy="148.87" r="0.65" fill="#fff" stroke="#5a5a5a" stroke-width="0.4"/>
<polyline points="205,140.3 206.71,140.63 208.42,140.93 210.14,141.19 211.85,141.39 213.56,141.52 215.27,141.63 216.98,141.72 218.69,141.81 220.41,141.9 222.12,142.01 223.83,142.13 225.54,142.25 227.25,142.38 228.97,142.51 230.68,142.66 232.39,142.81 234.1,142.99 235.81,143.18 237.53,143.41 239.24,143.68 240.95,144 242.66,144.34 244.37,144.68 246.08,145.02 247.8,145.35 249.51,145.69 251.22,146.03 252.93,146.38 254.64,146.73 256.36,147.07 258.07,147.4 259.78,147.73 261.49,148.05 263.2,148.38 264.91,148.71 266.63,149.06 268.34,149.42 270.05,149.81 271.76,150.22 273.47,150.66 275.19,151.11 276.9,151.58 278.61,152.06 280.32,152.56 282.03,153.07 283.75,153.59 285.46,154.12 287.17,154.66 288.88,155.21 290.59,155.76 292.3,156.31 294.02,156.86 295.73,157.42 297.44,157.98 299.15,158.53 300.86,159.08 302.58,159.63 304.29,160.19 306,160.75 307.71,161.31 309.42,161.88 311.13,162.46 312.85,163.04 314.56,163.62 316.27,164.21 317.98,164.8 319.69,165.4 321.41,166 323.12,166.6 324.83,167.21 326.54,167.82 328.25,168.44 329.97,169.06 331.68,169.68 333.39,170.31 335.1,170.95 336.81,171.59 338.52,172.23 340.24,172.88 341.95,173.54 343.66,174.2 345.37,174.87 347.08,175.54 348.8,176.22 350.51,176.9 352.22,177.59 353.93,178.28 355.64,178.98 357.36,179.68" fill="none" stroke="#5a5a5a" stroke-width="0.6"/>
<circle cx="208.15" cy="140.88" r="0.7" fill="#5a5a5a" stroke="none"/>
<circle cx="214.45" cy="141.58" r="0.7" fill="#5a5a5a" stroke="none"/>
<circle cx="220.75" cy="141.92" r="0.7" fill="#5a5a5a" stroke="none"/>
<circle cx="227.05" cy="142.36" r="0.7" fill="#5a5a5a" stroke="none"/>
<circle cx="233.35" cy="142.91" r="0.7" fill="#5a5a5a" stroke="none"/>
<circle cx="239.65" cy="143.76" r="0.7" fill="#5a5a5a" stroke="none"/>
<circle cx="245.95" cy="144.99" r="0.7" fill="#5a5a5a" stroke="none"/>
<circle cx="252.25" cy="146.24" r="0.7" fill="#5a5a5a" stroke="none"/>
<circle cx="258.55" cy="147.5" r="0.7" fill="#5a5a5a" stroke="none"/>
<circle cx="264.85" cy="148.7" r="0.7" fill="#5a5a5a" stroke="none"/>
<circle cx="271.15" cy="150.08" r="0.7" fill="#5a5a5a" stroke="none"/>
<circle cx="277.45" cy="151.73" r="0.7" fill="#5a5a5a" stroke="none"/>
<circle cx="283.75" cy="153.59" r="0.7" fill="#5a5a5a" stroke="none"/>
<circle cx="290.05" cy="155.58" r="0.7" fill="#5a5a5a" stroke="none"/>
<circle cx="296.35" cy="157.62" r="0.7" fill="#5a5a5a" stroke="none"/>
<circle cx="302.65" cy="159.65" r="0.7" fill="#5a5a5a" stroke="none"/>
<circle cx="308.95" cy="161.73" r="0.7" fill="#5a5a5a" stroke="none"/>
<circle cx="315.25" cy="163.86" r="0.7" fill="#5a5a5a" stroke="none"/>
<circle cx="321.55" cy="166.05" r="0.7" fill="#5a5a5a" stroke="none"/>
<circle cx="327.85" cy="168.29" r="0.7" fill="#5a5a5a" stroke="none"/>
<circle cx="334.15" cy="170.59" r="0.7" fill="#5a5a5a" stroke="none"/>
<circle cx="340.45" cy="172.97" r="0.7" fill="#5a5a5a" stroke="none"/>
<circle cx="346.75" cy="175.41" r="0.7" fill="#5a5a5a" stroke="none"/>
<circle cx="353.05" cy="177.93" r="0.7" fill="#5a5a5a" stroke="none"/>
<polyline points="205,160.61 206.1,154.67 207.19,153.46 208.29,153.76 209.38,153.96 210.48,154.06 211.58,153.28 212.67,153.16 213.77,152.91 214.86,152.61 215.96,152.45 217.06,152.05 218.15,151.97 219.25,151.87 220.35,151.65 221.44,151.56 222.54,151.36 223.63,151.69 224.73,151.69 225.83,151.97 226.92,152.31 228.02,151.83 229.11,151.84 230.21,152.13 231.31,151.67 232.4,152.3 233.5,152.09 234.59,152.17 235.69,151.93 236.79,152.01 237.88,152.3 238.98,152.36 240.07,152.68 241.17,152.99 242.27,152.86 243.36,152.92 244.46,152.89 245.55,153.04 246.65,153.46 247.75,153.61 248.84,153.91 249.94,154.16 251.04,154.41 252.13,154.02 253.23,154.64 254.32,154.84 255.42,155.19 256.52,155.07 257.61,155.68 258.71,155.67 259.8,156.01 260.9,156.03 262,156.41 263.09,156.75 264.19,156.8 265.28,156.97 266.38,157.27 267.48,157.48 268.57,157.88 269.67,158.08 270.76,158.39 271.86,158.59 272.96,158.92 274.05,159.32 275.15,159.27 276.25,159.63 277.34,160.09 278.44,160.01 279.53,160.5 280.63,160.61 281.73,160.77 282.82,161.14 283.92,161.24 285.01,161.91 286.11,161.92 287.21,162.37 288.3,162.69 289.4,162.92 290.49,163.16 291.59,163.39 292.69,163.88 293.78,163.84 294.88,164.21 295.97,164.83 297.07,164.64 298.17,164.88 299.26,165.3 300.36,165.83 301.45,166.29 302.55,166.26 303.65,166.83 304.74,166.89 305.84,167.39 306.94,167.6 308.03,168.05 309.13,168.33 310.22,168.8 311.32,168.86 312.42,169.48 313.51,169.8 314.61,169.91 315.7,170.8 316.8,171.15 317.9,171.15 318.99,171.86 320.09,171.72 321.18,172.46 322.28,172.88 323.38,172.81 324.47,173.25 325.57,173.55 326.66,174.06 327.76,174.71 328.86,174.62 329.95,175.33 331.05,175.51 332.15,175.84 333.24,176.37 334.34,176.6 335.43,176.91 336.53,177.35 337.63,177.95 338.72,178.08 339.82,178.27 340.91,178.95 342.01,179.22 343.11,179.62 344.2,179.61 345.3,180.16 346.39,180.56 347.49,181.11 348.59,181.26 349.68,181.81 350.78,182.06 351.87,182.52 352.97,182.67 354.07,183.05 355.16,183.53 356.26,183.8 357.36,184.4" fill="none" stroke="#333" stroke-width="0.85"/>
<rect x="205.95" y="169.45" width="71.05" height="35.25" fill="#777"/>
<rect x="205.25" y="168.75" width="71.05" height="35.25" fill="#fff" stroke="#444" stroke-width="0.5"/>
<text transform="translate(206.5 173.65) scale(0.1)" font-size="37.5" text-anchor="start" fill="#000" font-weight="bold">IMS Giotto</text>
<text transform="translate(206.5 177.65) scale(0.1)" font-size="36.5" text-anchor="start" fill="#111">1</text>
<line x1="212.75" y1="176.5" x2="220.25" y2="176.5" stroke="#666" stroke-width="0.5"/>
<circle cx="216.5" cy="176.5" r="1.0" fill="#fff" stroke="#555" stroke-width="0.45"/>
<text transform="translate(221.5 177.65) scale(0.1)" font-size="36.5" text-anchor="start" fill="#111">Primary capture</text>
<text transform="translate(206.5 181.88) scale(0.1)" font-size="36.5" text-anchor="start" fill="#111">2+3</text>
<line x1="212.75" y1="180.73" x2="220.25" y2="180.73" stroke="#666" stroke-width="0.5"/>
<circle cx="216.5" cy="180.73" r="1.0" fill="#fff" stroke="#555" stroke-width="0.45"/>
<text transform="translate(221.5 181.88) scale(0.1)" font-size="36.5" text-anchor="start" fill="#111">Conversion and spreading</text>
<text transform="translate(206.5 186.12) scale(0.1)" font-size="36.5" text-anchor="start" fill="#111">4</text>
<line x1="212.75" y1="184.97" x2="220.25" y2="184.97" stroke="#666" stroke-width="0.5"/>
<path d="M215.5 184.17 l2 0 l-1 1.8 z" fill="#fff" stroke="#555" stroke-width="0.4"/>
<text transform="translate(221.5 186.12) scale(0.1)" font-size="36.5" text-anchor="start" fill="#111">Secondary capture (coupling)</text>
<text transform="translate(206.5 190.35) scale(0.1)" font-size="36.5" text-anchor="start" fill="#111">5</text>
<line x1="212.75" y1="189.2" x2="220.25" y2="189.2" stroke="#666" stroke-width="0.5"/>
<path d="M216.5 188.1 l1.1 1.1 l-1.1 1.1 l-1.1 -1.1 z" fill="#fff" stroke="#555" stroke-width="0.4"/>
<text transform="translate(221.5 190.35) scale(0.1)" font-size="36.5" text-anchor="start" fill="#111">Collection (presampled DQE)</text>
<text transform="translate(206.5 194.58) scale(0.1)" font-size="36.5" text-anchor="start" fill="#111">6</text>
<line x1="212.75" y1="193.43" x2="220.25" y2="193.43" stroke="#666" stroke-width="0.5"/>
<circle cx="216.5" cy="193.43" r="1.0" fill="#bbb" stroke="#555" stroke-width="0.45"/>
<text transform="translate(221.5 194.58) scale(0.1)" font-size="36.5" text-anchor="start" fill="#111">Sampling</text>
<text transform="translate(206.5 198.82) scale(0.1)" font-size="36.5" text-anchor="start" fill="#111">7a</text>
<line x1="212.75" y1="197.67" x2="220.25" y2="197.67" stroke="#2a2a2a" stroke-width="0.65"/>
<text transform="translate(221.5 198.82) scale(0.1)" font-size="36.5" text-anchor="start" fill="#111">+ electronic NPS (detector DQE)</text>
<text transform="translate(206.5 203.05) scale(0.1)" font-size="36.5" text-anchor="start" fill="#111">7b</text>
<line x1="212.75" y1="201.9" x2="220.25" y2="201.9" stroke="#555" stroke-width="0.6" stroke-dasharray="1.3 0.6"/>
<text transform="translate(221.5 203.05) scale(0.1)" font-size="36.5" text-anchor="start" fill="#111">+ fixed pattern NPS</text>
<text class="cap" transform="translate(281.6 228.6) scale(0.1)" font-size="88" text-anchor="middle" fill="#111" font-family='"Liberation Serif", serif'>(d)</text>
<line x1="112.5" y1="234.69" x2="112.5" y2="309.15" stroke="#4a4a4a" stroke-width="0.6"/>
<line x1="112.2" y1="308.85" x2="253.8" y2="308.85" stroke="#4a4a4a" stroke-width="0.6"/>
<line x1="110.8" y1="307.95" x2="112.5" y2="307.95" stroke="#444" stroke-width="0.55"/>
<text transform="translate(109.2 309.02) scale(0.1)" font-size="30" text-anchor="end" fill="#111">0.0</text>
<line x1="110.8" y1="298.83" x2="112.5" y2="298.83" stroke="#444" stroke-width="0.55"/>
<text transform="translate(109.2 299.9) scale(0.1)" font-size="30" text-anchor="end" fill="#111">0.1</text>
<line x1="110.8" y1="289.71" x2="112.5" y2="289.71" stroke="#444" stroke-width="0.55"/>
<text transform="translate(109.2 290.78) scale(0.1)" font-size="30" text-anchor="end" fill="#111">0.2</text>
<line x1="110.8" y1="280.59" x2="112.5" y2="280.59" stroke="#444" stroke-width="0.55"/>
<text transform="translate(109.2 281.66) scale(0.1)" font-size="30" text-anchor="end" fill="#111">0.3</text>
<line x1="110.8" y1="271.47" x2="112.5" y2="271.47" stroke="#444" stroke-width="0.55"/>
<text transform="translate(109.2 272.54) scale(0.1)" font-size="30" text-anchor="end" fill="#111">0.4</text>
<line x1="110.8" y1="262.35" x2="112.5" y2="262.35" stroke="#444" stroke-width="0.55"/>
<text transform="translate(109.2 263.42) scale(0.1)" font-size="30" text-anchor="end" fill="#111">0.5</text>
<line x1="110.8" y1="253.23" x2="112.5" y2="253.23" stroke="#444" stroke-width="0.55"/>
<text transform="translate(109.2 254.3) scale(0.1)" font-size="30" text-anchor="end" fill="#111">0.6</text>
<line x1="110.8" y1="244.11" x2="112.5" y2="244.11" stroke="#444" stroke-width="0.55"/>
<text transform="translate(109.2 245.18) scale(0.1)" font-size="30" text-anchor="end" fill="#111">0.7</text>
<line x1="110.8" y1="234.99" x2="112.5" y2="234.99" stroke="#444" stroke-width="0.55"/>
<text transform="translate(109.2 236.06) scale(0.1)" font-size="30" text-anchor="end" fill="#111">0.8</text>
<line x1="111.6" y1="303.39" x2="112.5" y2="303.39" stroke="#666" stroke-width="0.4"/>
<line x1="111.6" y1="294.27" x2="112.5" y2="294.27" stroke="#666" stroke-width="0.4"/>
<line x1="111.6" y1="285.15" x2="112.5" y2="285.15" stroke="#666" stroke-width="0.4"/>
<line x1="111.6" y1="276.03" x2="112.5" y2="276.03" stroke="#666" stroke-width="0.4"/>
<line x1="111.6" y1="266.91" x2="112.5" y2="266.91" stroke="#666" stroke-width="0.4"/>
<line x1="111.6" y1="257.79" x2="112.5" y2="257.79" stroke="#666" stroke-width="0.4"/>
<line x1="111.6" y1="248.67" x2="112.5" y2="248.67" stroke="#666" stroke-width="0.4"/>
<line x1="111.6" y1="239.55" x2="112.5" y2="239.55" stroke="#666" stroke-width="0.4"/>
<line x1="113.5" y1="308.85" x2="113.5" y2="310.55" stroke="#444" stroke-width="0.55"/>
<text transform="translate(113.5 314.55) scale(0.1)" font-size="30" text-anchor="middle" fill="#111">0</text>
<line x1="127.5" y1="308.85" x2="127.5" y2="310.55" stroke="#444" stroke-width="0.55"/>
<text transform="translate(127.5 314.55) scale(0.1)" font-size="30" text-anchor="middle" fill="#111">1</text>
<line x1="141.5" y1="308.85" x2="141.5" y2="310.55" stroke="#444" stroke-width="0.55"/>
<text transform="translate(141.5 314.55) scale(0.1)" font-size="30" text-anchor="middle" fill="#111">2</text>
<line x1="155.5" y1="308.85" x2="155.5" y2="310.55" stroke="#444" stroke-width="0.55"/>
<text transform="translate(155.5 314.55) scale(0.1)" font-size="30" text-anchor="middle" fill="#111">3</text>
<line x1="169.5" y1="308.85" x2="169.5" y2="310.55" stroke="#444" stroke-width="0.55"/>
<text transform="translate(169.5 314.55) scale(0.1)" font-size="30" text-anchor="middle" fill="#111">4</text>
<line x1="183.5" y1="308.85" x2="183.5" y2="310.55" stroke="#444" stroke-width="0.55"/>
<text transform="translate(183.5 314.55) scale(0.1)" font-size="30" text-anchor="middle" fill="#111">5</text>
<line x1="197.5" y1="308.85" x2="197.5" y2="310.55" stroke="#444" stroke-width="0.55"/>
<text transform="translate(197.5 314.55) scale(0.1)" font-size="30" text-anchor="middle" fill="#111">6</text>
<line x1="211.5" y1="308.85" x2="211.5" y2="310.55" stroke="#444" stroke-width="0.55"/>
<text transform="translate(211.5 314.55) scale(0.1)" font-size="30" text-anchor="middle" fill="#111">7</text>
<line x1="225.5" y1="308.85" x2="225.5" y2="310.55" stroke="#444" stroke-width="0.55"/>
<text transform="translate(225.5 314.55) scale(0.1)" font-size="30" text-anchor="middle" fill="#111">8</text>
<line x1="239.5" y1="308.85" x2="239.5" y2="310.55" stroke="#444" stroke-width="0.55"/>
<text transform="translate(239.5 314.55) scale(0.1)" font-size="30" text-anchor="middle" fill="#111">9</text>
<line x1="253.5" y1="308.85" x2="253.5" y2="310.55" stroke="#444" stroke-width="0.55"/>
<text transform="translate(253.5 314.55) scale(0.1)" font-size="30" text-anchor="middle" fill="#111">10</text>
<text transform="translate(183.5 321.55) scale(0.1)" font-size="37.5" text-anchor="middle" fill="#111">Spatial frequency [mm<tspan dy="-13" font-size="24">-1</tspan><tspan dy="13">]</tspan></text>
<text transform="translate(100.4 272.67) rotate(-90) scale(0.1)" font-size="38" text-anchor="middle" fill="#111">DQE</text>
<line x1="115.3" y1="239.06" x2="253.5" y2="239.06" stroke="#cfcfcf" stroke-width="3.0"/>
<line x1="115.3" y1="239.06" x2="253.5" y2="239.06" stroke="#808080" stroke-width="1.0"/>
<ellipse cx="115.3" cy="239.06" rx="1.0" ry="1.05" fill="#fff" stroke="#a5a5a5" stroke-width="0.4"/>
<ellipse cx="119" cy="239.06" rx="1.0" ry="1.05" fill="#fff" stroke="#a5a5a5" stroke-width="0.4"/>
<ellipse cx="122.7" cy="239.06" rx="1.0" ry="1.05" fill="#fff" stroke="#a5a5a5" stroke-width="0.4"/>
<ellipse cx="126.4" cy="239.06" rx="1.0" ry="1.05" fill="#fff" stroke="#a5a5a5" stroke-width="0.4"/>
<ellipse cx="130.1" cy="239.06" rx="1.0" ry="1.05" fill="#fff" stroke="#a5a5a5" stroke-width="0.4"/>
<ellipse cx="133.8" cy="239.06" rx="1.0" ry="1.05" fill="#fff" stroke="#a5a5a5" stroke-width="0.4"/>
<ellipse cx="137.5" cy="239.06" rx="1.0" ry="1.05" fill="#fff" stroke="#a5a5a5" stroke-width="0.4"/>
<ellipse cx="141.2" cy="239.06" rx="1.0" ry="1.05" fill="#fff" stroke="#a5a5a5" stroke-width="0.4"/>
<ellipse cx="144.9" cy="239.06" rx="1.0" ry="1.05" fill="#fff" stroke="#a5a5a5" stroke-width="0.4"/>
<ellipse cx="148.6" cy="239.06" rx="1.0" ry="1.05" fill="#fff" stroke="#a5a5a5" stroke-width="0.4"/>
<ellipse cx="152.3" cy="239.06" rx="1.0" ry="1.05" fill="#fff" stroke="#a5a5a5" stroke-width="0.4"/>
<ellipse cx="156" cy="239.06" rx="1.0" ry="1.05" fill="#fff" stroke="#a5a5a5" stroke-width="0.4"/>
<ellipse cx="159.7" cy="239.06" rx="1.0" ry="1.05" fill="#fff" stroke="#a5a5a5" stroke-width="0.4"/>
<ellipse cx="163.4" cy="239.06" rx="1.0" ry="1.05" fill="#fff" stroke="#a5a5a5" stroke-width="0.4"/>
<ellipse cx="167.1" cy="239.06" rx="1.0" ry="1.05" fill="#fff" stroke="#a5a5a5" stroke-width="0.4"/>
<ellipse cx="170.8" cy="239.06" rx="1.0" ry="1.05" fill="#fff" stroke="#a5a5a5" stroke-width="0.4"/>
<ellipse cx="174.5" cy="239.06" rx="1.0" ry="1.05" fill="#fff" stroke="#a5a5a5" stroke-width="0.4"/>
<ellipse cx="178.2" cy="239.06" rx="1.0" ry="1.05" fill="#fff" stroke="#a5a5a5" stroke-width="0.4"/>
<ellipse cx="181.9" cy="239.06" rx="1.0" ry="1.05" fill="#fff" stroke="#a5a5a5" stroke-width="0.4"/>
<ellipse cx="185.6" cy="239.06" rx="1.0" ry="1.05" fill="#fff" stroke="#a5a5a5" stroke-width="0.4"/>
<ellipse cx="189.3" cy="239.06" rx="1.0" ry="1.05" fill="#fff" stroke="#a5a5a5" stroke-width="0.4"/>
<ellipse cx="193" cy="239.06" rx="1.0" ry="1.05" fill="#fff" stroke="#a5a5a5" stroke-width="0.4"/>
<ellipse cx="196.7" cy="239.06" rx="1.0" ry="1.05" fill="#fff" stroke="#a5a5a5" stroke-width="0.4"/>
<ellipse cx="200.4" cy="239.06" rx="1.0" ry="1.05" fill="#fff" stroke="#a5a5a5" stroke-width="0.4"/>
<ellipse cx="204.1" cy="239.06" rx="1.0" ry="1.05" fill="#fff" stroke="#a5a5a5" stroke-width="0.4"/>
<ellipse cx="207.8" cy="239.06" rx="1.0" ry="1.05" fill="#fff" stroke="#a5a5a5" stroke-width="0.4"/>
<ellipse cx="211.5" cy="239.06" rx="1.0" ry="1.05" fill="#fff" stroke="#a5a5a5" stroke-width="0.4"/>
<ellipse cx="215.2" cy="239.06" rx="1.0" ry="1.05" fill="#fff" stroke="#a5a5a5" stroke-width="0.4"/>
<ellipse cx="218.9" cy="239.06" rx="1.0" ry="1.05" fill="#fff" stroke="#a5a5a5" stroke-width="0.4"/>
<ellipse cx="222.6" cy="239.06" rx="1.0" ry="1.05" fill="#fff" stroke="#a5a5a5" stroke-width="0.4"/>
<ellipse cx="226.3" cy="239.06" rx="1.0" ry="1.05" fill="#fff" stroke="#a5a5a5" stroke-width="0.4"/>
<ellipse cx="230" cy="239.06" rx="1.0" ry="1.05" fill="#fff" stroke="#a5a5a5" stroke-width="0.4"/>
<ellipse cx="233.7" cy="239.06" rx="1.0" ry="1.05" fill="#fff" stroke="#a5a5a5" stroke-width="0.4"/>
<ellipse cx="237.4" cy="239.06" rx="1.0" ry="1.05" fill="#fff" stroke="#a5a5a5" stroke-width="0.4"/>
<ellipse cx="241.1" cy="239.06" rx="1.0" ry="1.05" fill="#fff" stroke="#a5a5a5" stroke-width="0.4"/>
<ellipse cx="244.8" cy="239.06" rx="1.0" ry="1.05" fill="#fff" stroke="#a5a5a5" stroke-width="0.4"/>
<ellipse cx="248.5" cy="239.06" rx="1.0" ry="1.05" fill="#fff" stroke="#a5a5a5" stroke-width="0.4"/>
<ellipse cx="252.2" cy="239.06" rx="1.0" ry="1.05" fill="#fff" stroke="#a5a5a5" stroke-width="0.4"/>
<polyline points="114.9,249.14 116.46,249.21 118.01,249.29 119.57,249.37 121.13,249.45 122.69,249.54 124.24,249.62 125.8,249.7 127.36,249.79 128.92,249.87 130.47,249.96 132.03,250.04 133.59,250.13 135.14,250.22 136.7,250.31 138.26,250.4 139.82,250.5 141.37,250.61 142.93,250.72 144.49,250.84 146.05,250.96 147.6,251.08 149.16,251.21 150.72,251.35 152.28,251.5 153.83,251.66 155.39,251.84 156.95,252.04 158.5,252.25 160.06,252.5 161.62,252.85 163.18,253.26 164.73,253.73 166.29,254.2 167.85,254.67 169.41,255.1 170.96,255.46 172.52,255.79 174.08,256.09 175.63,256.39 177.19,256.68 178.75,256.99 180.31,257.33 181.86,257.71 183.42,258.14 184.98,258.63 186.54,259.16 188.09,259.74 189.65,260.34 191.21,260.95 192.77,261.57 194.32,262.17 195.88,262.77 197.44,263.37 198.99,263.97 200.55,264.59 202.11,265.21 203.67,265.85 205.22,266.51 206.78,267.2 208.34,267.9 209.9,268.62 211.45,269.36 213.01,270.12 214.57,270.9 216.12,271.71 217.68,272.53 219.24,273.37 220.8,274.26 222.35,275.19 223.91,276.15 225.47,277.13 227.03,278.11 228.58,279.1 230.14,280.07 231.7,281.01 233.26,281.92 234.81,282.82 236.37,283.7 237.93,284.59 239.48,285.49 241.04,286.42 242.6,287.39 244.16,288.41 245.71,289.48 247.27,290.59 248.83,291.74 250.39,292.93 251.94,294.14 253.5,295.39" fill="none" stroke="#4a4a4a" stroke-width="0.55"/>
<rect x="118.75" y="248.71" width="1.3" height="1.3" fill="#fff" stroke="#4a4a4a" stroke-width="0.4" transform="rotate(45 119.4 249.36)"/>
<rect x="127.75" y="249.2" width="1.3" height="1.3" fill="#fff" stroke="#4a4a4a" stroke-width="0.4" transform="rotate(45 128.4 249.85)"/>
<rect x="136.75" y="249.7" width="1.3" height="1.3" fill="#fff" stroke="#4a4a4a" stroke-width="0.4" transform="rotate(45 137.4 250.35)"/>
<rect x="145.75" y="250.33" width="1.3" height="1.3" fill="#fff" stroke="#4a4a4a" stroke-width="0.4" transform="rotate(45 146.4 250.98)"/>
<rect x="154.75" y="251.19" width="1.3" height="1.3" fill="#fff" stroke="#4a4a4a" stroke-width="0.4" transform="rotate(45 155.4 251.84)"/>
<rect x="163.75" y="252.98" width="1.3" height="1.3" fill="#fff" stroke="#4a4a4a" stroke-width="0.4" transform="rotate(45 164.4 253.63)"/>
<rect x="172.75" y="255.31" width="1.3" height="1.3" fill="#fff" stroke="#4a4a4a" stroke-width="0.4" transform="rotate(45 173.4 255.96)"/>
<rect x="181.75" y="257.2" width="1.3" height="1.3" fill="#fff" stroke="#4a4a4a" stroke-width="0.4" transform="rotate(45 182.4 257.85)"/>
<rect x="190.75" y="260.38" width="1.3" height="1.3" fill="#fff" stroke="#4a4a4a" stroke-width="0.4" transform="rotate(45 191.4 261.03)"/>
<rect x="199.75" y="263.88" width="1.3" height="1.3" fill="#fff" stroke="#4a4a4a" stroke-width="0.4" transform="rotate(45 200.4 264.53)"/>
<rect x="208.75" y="267.74" width="1.3" height="1.3" fill="#fff" stroke="#4a4a4a" stroke-width="0.4" transform="rotate(45 209.4 268.39)"/>
<rect x="217.75" y="272.27" width="1.3" height="1.3" fill="#fff" stroke="#4a4a4a" stroke-width="0.4" transform="rotate(45 218.4 272.92)"/>
<rect x="226.75" y="277.7" width="1.3" height="1.3" fill="#fff" stroke="#4a4a4a" stroke-width="0.4" transform="rotate(45 227.4 278.35)"/>
<rect x="235.75" y="283.07" width="1.3" height="1.3" fill="#fff" stroke="#4a4a4a" stroke-width="0.4" transform="rotate(45 236.4 283.72)"/>
<rect x="244.75" y="288.62" width="1.3" height="1.3" fill="#fff" stroke="#4a4a4a" stroke-width="0.4" transform="rotate(45 245.4 289.27)"/>
<polyline points="114.9,246.79 116.46,247.37 118.01,247.9 119.57,248.48 121.13,248.95 122.69,249.13 124.24,249.21 125.8,249.26 127.36,249.33 128.92,249.44 130.47,249.57 132.03,249.71 133.59,249.87 135.14,250.04 136.7,250.21 138.26,250.4 139.82,250.59 141.37,250.78 142.93,250.98 144.49,251.18 146.05,251.4 147.6,251.63 149.16,251.88 150.72,252.15 152.28,252.44 153.83,252.79 155.39,253.17 156.95,253.56 158.5,253.96 160.06,254.34 161.62,254.71 163.18,255.06 164.73,255.42 166.29,255.79 167.85,256.18 169.41,256.61 170.96,257.09 172.52,257.61 174.08,258.19 175.63,258.8 177.19,259.44 178.75,260.1 180.31,260.78 181.86,261.46 183.42,262.15 184.98,262.86 186.54,263.58 188.09,264.33 189.65,265.1 191.21,265.9 192.77,266.73 194.32,267.59 195.88,268.5 197.44,269.48 198.99,270.51 200.55,271.58 202.11,272.66 203.67,273.75 205.22,274.82 206.78,275.85 208.34,276.86 209.9,277.86 211.45,278.86 213.01,279.85 214.57,280.83 216.12,281.82 217.68,282.79 219.24,283.76 220.8,284.74 222.35,285.72 223.91,286.7 225.47,287.67 227.03,288.62 228.58,289.55 230.14,290.45 231.7,291.32 233.26,292.15 234.81,292.97 236.37,293.76 237.93,294.54 239.48,295.3 241.04,296.04 242.6,296.77 244.16,297.48 245.71,298.17 247.27,298.85 248.83,299.51 250.39,300.16 251.94,300.78 253.5,301.39" fill="none" stroke="#5a5a5a" stroke-width="0.45"/>
<polyline points="114.9,249.14 116.46,249.22 118.01,249.31 119.57,249.4 121.13,249.51 122.69,249.61 124.24,249.73 125.8,249.85 127.36,249.97 128.92,250.1 130.47,250.23 132.03,250.38 133.59,250.54 135.14,250.7 136.7,250.87 138.26,251.05 139.82,251.23 141.37,251.42 142.93,251.62 144.49,251.82 146.05,252.04 147.6,252.27 149.16,252.52 150.72,252.79 152.28,253.08 153.83,253.43 155.39,253.8 156.95,254.2 158.5,254.6 160.06,254.98 161.62,255.34 163.18,255.7 164.73,256.06 166.29,256.43 167.85,256.82 169.41,257.25 170.96,257.72 172.52,258.25 174.08,258.82 175.63,259.43 177.19,260.07 178.75,260.74 180.31,261.41 181.86,262.1 183.42,262.79 184.98,263.49 186.54,264.22 188.09,264.97 189.65,265.74 191.21,266.54 192.77,267.37 194.32,268.23 195.88,269.14 197.44,270.12 198.99,271.15 200.55,272.22 202.11,273.3 203.67,274.39 205.22,275.45 206.78,276.49 208.34,277.5 209.9,278.5 211.45,279.49 213.01,280.49 214.57,281.47 216.12,282.45 217.68,283.43 219.24,284.4 220.8,285.37 222.35,286.35 223.91,287.33 225.47,288.3 227.03,289.26 228.58,290.19 230.14,291.09 231.7,291.95 233.26,292.79 234.81,293.61 236.37,294.4 237.93,295.18 239.48,295.94 241.04,296.68 242.6,297.4 244.16,298.12 245.71,298.81 247.27,299.49 248.83,300.15 250.39,300.79 251.94,301.42 253.5,302.03" fill="none" stroke="#3a3a3a" stroke-width="0.8"/>
<polyline points="114.9,248.86 115.91,248.92 116.91,248.97 117.92,249.03 118.93,249.09 119.93,249.15 120.94,249.22 121.95,249.29 122.95,249.36 123.96,249.43 124.97,249.51 125.97,249.59 126.98,249.66 127.99,249.75 128.99,249.83 130,249.92 131.01,250.01 132.01,250.11 133.02,250.21 134.03,250.31 135.03,250.41 136.04,250.52 137.05,250.64 138.06,250.75 139.06,250.87 140.07,250.99 141.08,251.11 142.08,251.23 143.09,251.36 144.1,251.49 145.1,251.63 146.11,251.77 147.12,251.92 148.12,252.08 149.13,252.24 150.14,252.41 151.14,252.59 152.15,252.78 153.16,253 154.16,253.23 155.17,253.48 156.18,253.73 157.18,253.99 158.19,254.24 159.2,254.5 160.2,254.74 161.21,254.98 162.22,255.21 163.22,255.44 164.23,255.67 165.24,255.9 166.24,256.14 167.25,256.39 168.26,256.66 169.26,256.93 170.27,257.23 171.28,257.55 172.28,257.89 173.29,258.26 174.3,258.63 175.3,259.03 176.31,259.43 177.32,259.85 178.32,260.28 179.33,260.72 180.34,261.15 181.34,261.6 182.35,262.04 183.36,262.49 184.37,262.94 185.37,263.4 186.38,263.87 187.39,264.35 188.39,264.84 189.4,265.34 190.41,265.85 191.41,266.37 192.42,266.91 193.43,267.45 194.43,268.02 195.44,268.6 196.45,269.21 197.45,269.86 198.46,270.52 199.47,271.2 200.47,271.89 201.48,272.59 202.49,273.29 203.49,273.99 204.5,274.69" fill="none" stroke="#777" stroke-width="0.4"/>
<circle cx="117" cy="248.98" r="0.65" fill="#fff" stroke="#777" stroke-width="0.4"/>
<circle cx="121.2" cy="249.24" r="0.65" fill="#fff" stroke="#777" stroke-width="0.4"/>
<circle cx="125.4" cy="249.54" r="0.65" fill="#fff" stroke="#777" stroke-width="0.4"/>
<circle cx="129.6" cy="249.88" r="0.65" fill="#fff" stroke="#777" stroke-width="0.4"/>
<circle cx="133.8" cy="250.29" r="0.65" fill="#fff" stroke="#777" stroke-width="0.4"/>
<circle cx="138" cy="250.74" r="0.65" fill="#fff" stroke="#777" stroke-width="0.4"/>
<circle cx="142.2" cy="251.25" r="0.65" fill="#fff" stroke="#777" stroke-width="0.4"/>
<circle cx="146.4" cy="251.82" r="0.65" fill="#fff" stroke="#777" stroke-width="0.4"/>
<circle cx="150.6" cy="252.49" r="0.65" fill="#fff" stroke="#777" stroke-width="0.4"/>
<circle cx="154.8" cy="253.39" r="0.65" fill="#fff" stroke="#777" stroke-width="0.4"/>
<circle cx="159" cy="254.45" r="0.65" fill="#fff" stroke="#777" stroke-width="0.4"/>
<circle cx="163.2" cy="255.43" r="0.65" fill="#fff" stroke="#777" stroke-width="0.4"/>
<circle cx="167.4" cy="256.43" r="0.65" fill="#fff" stroke="#777" stroke-width="0.4"/>
<circle cx="171.6" cy="257.66" r="0.65" fill="#fff" stroke="#777" stroke-width="0.4"/>
<circle cx="175.8" cy="259.23" r="0.65" fill="#fff" stroke="#777" stroke-width="0.4"/>
<circle cx="180" cy="261.01" r="0.65" fill="#fff" stroke="#777" stroke-width="0.4"/>
<circle cx="184.2" cy="262.87" r="0.65" fill="#fff" stroke="#777" stroke-width="0.4"/>
<circle cx="188.4" cy="264.84" r="0.65" fill="#fff" stroke="#777" stroke-width="0.4"/>
<circle cx="192.6" cy="267" r="0.65" fill="#fff" stroke="#777" stroke-width="0.4"/>
<circle cx="196.8" cy="269.44" r="0.65" fill="#fff" stroke="#777" stroke-width="0.4"/>
<circle cx="201" cy="272.26" r="0.65" fill="#fff" stroke="#777" stroke-width="0.4"/>
<rect x="115.5" y="275" width="68.7" height="31.2" fill="#777"/>
<rect x="114.8" y="274.3" width="68.7" height="31.2" fill="#fff" stroke="#444" stroke-width="0.5"/>
<text transform="translate(116.8 278.55) scale(0.1)" font-size="37.5" text-anchor="start" fill="#000" font-weight="bold">Philips MicroDose L30 (PB direction)</text>
<text transform="translate(116.8 283.85) scale(0.1)" font-size="36.5" text-anchor="start" fill="#111">1</text>
<line x1="123.4" y1="282.7" x2="129.5" y2="282.7" stroke="#666" stroke-width="0.5"/>
<circle cx="126.45" cy="282.7" r="1.0" fill="#fff" stroke="#555" stroke-width="0.45"/>
<text transform="translate(132 283.85) scale(0.1)" font-size="36.5" text-anchor="start" fill="#111">Capture</text>
<text transform="translate(116.8 287.45) scale(0.1)" font-size="36.5" text-anchor="start" fill="#111">2</text>
<line x1="123.4" y1="286.3" x2="129.5" y2="286.3" stroke="#666" stroke-width="0.5"/>
<path d="M126.45 285.2 l1.1 1.1 l-1.1 1.1 l-1.1 -1.1 z" fill="#fff" stroke="#555" stroke-width="0.4"/>
<text transform="translate(132 287.45) scale(0.1)" font-size="36.5" text-anchor="start" fill="#111">Conversion</text>
<text transform="translate(116.8 291.45) scale(0.1)" font-size="36.5" text-anchor="start" fill="#111">3</text>
<line x1="123.4" y1="290.3" x2="129.5" y2="290.3" stroke="#666" stroke-width="0.5"/>
<path d="M125.45 289.5 l2 0 l-1 1.8 z" fill="#fff" stroke="#555" stroke-width="0.4"/>
<text transform="translate(132 291.45) scale(0.1)" font-size="36.5" text-anchor="start" fill="#111">Spread in the converter</text>
<text transform="translate(116.8 295.55) scale(0.1)" font-size="36.5" text-anchor="start" fill="#111">5</text>
<line x1="123.4" y1="294.4" x2="129.5" y2="294.4" stroke="#666" stroke-width="0.5"/>
<path d="M126.45 293.3 l1.1 1.1 l-1.1 1.1 l-1.1 -1.1 z" fill="#fff" stroke="#555" stroke-width="0.4"/>
<text transform="translate(132 295.55) scale(0.1)" font-size="36.5" text-anchor="start" fill="#111">Collection (presampled DQE)</text>
<text transform="translate(116.8 299.75) scale(0.1)" font-size="36.5" text-anchor="start" fill="#111">6</text>
<line x1="123.4" y1="298.6" x2="129.5" y2="298.6" stroke="#666" stroke-width="0.5"/>
<circle cx="126.45" cy="298.6" r="1.0" fill="#bbb" stroke="#555" stroke-width="0.45"/>
<text transform="translate(132 299.75) scale(0.1)" font-size="36.5" text-anchor="start" fill="#111">Sampling (detector DQE)</text>
<text transform="translate(116.8 303.65) scale(0.1)" font-size="36.5" text-anchor="start" fill="#111">7</text>
<line x1="123.4" y1="302.5" x2="129.5" y2="302.5" stroke="#555" stroke-width="0.6" stroke-dasharray="1.3 0.6"/>
<text transform="translate(132 303.65) scale(0.1)" font-size="36.5" text-anchor="start" fill="#111">+ fixed pattern NPS</text>
<text class="cap" transform="translate(183 332) scale(0.1)" font-size="88" text-anchor="middle" fill="#111" font-family='"Liberation Serif", serif'>(e)</text>
</svg>
</body></html>
